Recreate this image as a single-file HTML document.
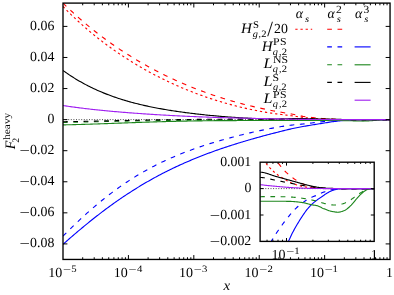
<!DOCTYPE html>
<html><head><meta charset="utf-8"><title>plot</title>
<style>html,body{margin:0;padding:0;background:#fff;}svg{display:block;}text{font-family:"Liberation Serif",serif;fill:#000;}.i{font-style:italic;}</style></head><body>
<div style="width:394px;height:295px;will-change:transform;overflow:hidden">
<svg width="394" height="295" viewBox="0 0 394 295">
<rect x="0" y="0" width="394" height="295" fill="#ffffff"/>
<defs><clipPath id="cm"><rect x="63.0" y="3.1" width="327.05" height="256.34999999999997"/></clipPath><clipPath id="ci"><rect x="260.1" y="162.2" width="114.09999999999997" height="79.20000000000002"/></clipPath></defs>
<g clip-path="url(#cm)" fill="none" stroke-linecap="butt" stroke-linejoin="round">
<path d="M63.0,119.62272727272723 L390.05,119.62272727272723" stroke="#000" stroke-width="0.7" stroke-dasharray="1 1.6"/>
<path d="M63.00,6.44 L64.26,7.74 L65.53,9.02 L66.79,10.30 L68.05,11.57 L69.31,12.82 L70.58,14.06 L71.84,15.29 L73.10,16.51 L74.36,17.72 L75.63,18.91 L76.89,20.09 L78.15,21.26 L79.42,22.42 L80.68,23.56 L81.94,24.70 L83.20,25.82 L84.47,26.93 L85.73,28.03 L86.99,29.12 L88.25,30.20 L89.52,31.27 L90.78,32.33 L92.04,33.38 L93.31,34.42 L94.57,35.45 L95.83,36.47 L97.09,37.48 L98.36,38.48 L99.62,39.47 L100.88,40.45 L102.14,41.43 L103.41,42.39 L104.67,43.34 L105.93,44.29 L107.20,45.23 L108.46,46.15 L109.72,47.07 L110.98,47.98 L112.25,48.89 L113.51,49.78 L114.77,50.66 L116.04,51.54 L117.30,52.41 L118.56,53.27 L119.82,54.13 L121.09,54.98 L122.35,55.81 L123.61,56.65 L124.87,57.47 L126.14,58.28 L127.40,59.09 L128.66,59.89 L129.93,60.69 L131.19,61.47 L132.45,62.25 L133.71,63.02 L134.98,63.79 L136.24,64.55 L137.50,65.30 L138.76,66.05 L140.03,66.78 L141.29,67.52 L142.55,68.24 L143.82,68.96 L145.08,69.67 L146.34,70.37 L147.60,71.07 L148.87,71.76 L150.13,72.45 L151.39,73.13 L152.65,73.80 L153.92,74.47 L155.18,75.13 L156.44,75.79 L157.71,76.44 L158.97,77.08 L160.23,77.72 L161.49,78.35 L162.76,78.97 L164.02,79.59 L165.28,80.20 L166.54,80.81 L167.81,81.41 L169.07,82.01 L170.33,82.60 L171.60,83.19 L172.86,83.77 L174.12,84.34 L175.38,84.91 L176.65,85.47 L177.91,86.02 L179.17,86.57 L180.43,87.12 L181.70,87.66 L182.96,88.19 L184.22,88.72 L185.49,89.25 L186.75,89.77 L188.01,90.28 L189.27,90.79 L190.54,91.29 L191.80,91.79 L193.06,92.28 L194.33,92.77 L195.59,93.25 L196.85,93.72 L198.11,94.19 L199.38,94.66 L200.64,95.12 L201.90,95.58 L203.16,96.03 L204.43,96.48 L205.69,96.92 L206.95,97.35 L208.22,97.78 L209.48,98.20 L210.74,98.62 L212.00,99.04 L213.27,99.45 L214.53,99.85 L215.79,100.25 L217.05,100.65 L218.32,101.04 L219.58,101.42 L220.84,101.81 L222.11,102.18 L223.37,102.55 L224.63,102.92 L225.89,103.28 L227.16,103.63 L228.42,103.98 L229.68,104.32 L230.94,104.66 L232.21,105.00 L233.47,105.33 L234.73,105.66 L236.00,105.99 L237.26,106.30 L238.52,106.62 L239.78,106.92 L241.05,107.23 L242.31,107.52 L243.57,107.82 L244.83,108.10 L246.10,108.39 L247.36,108.67 L248.62,108.94 L249.89,109.21 L251.15,109.48 L252.41,109.74 L253.67,110.00 L254.94,110.26 L256.20,110.50 L257.46,110.75 L258.72,110.98 L259.99,111.22 L261.25,111.45 L262.51,111.67 L263.78,111.89 L265.04,112.11 L266.30,112.33 L267.56,112.54 L268.83,112.74 L270.09,112.94 L271.35,113.14 L272.62,113.33 L273.88,113.52 L275.14,113.70 L276.40,113.88 L277.67,114.05 L278.93,114.21 L280.19,114.37 L281.45,114.52 L282.72,114.67 L283.98,114.81 L285.24,114.96 L286.51,115.11 L287.77,115.26 L289.03,115.41 L290.29,115.57 L291.56,115.73 L292.82,115.90 L294.08,116.08 L295.34,116.26 L296.61,116.45 L297.87,116.64 L299.13,116.83 L300.40,117.02 L301.66,117.20 L302.92,117.38 L304.18,117.55 L305.45,117.71 L306.71,117.86 L307.97,118.00 L309.23,118.13 L310.50,118.25 L311.76,118.36 L313.02,118.47 L314.29,118.56 L315.55,118.66 L316.81,118.74 L318.07,118.81 L319.34,118.88 L320.60,118.95 L321.86,119.01 L323.12,119.07 L324.39,119.13 L325.65,119.18 L326.91,119.24 L328.18,119.28 L329.44,119.33 L330.70,119.36 L331.96,119.40 L333.23,119.43 L334.49,119.46 L335.75,119.48 L337.01,119.50 L338.28,119.52 L339.54,119.54 L340.80,119.55 L342.07,119.57 L343.33,119.58 L344.59,119.59 L345.85,119.59 L347.12,119.60 L348.38,119.61 L349.64,119.61 L350.91,119.62 L352.17,119.62 L353.43,119.62 L354.69,119.62 L355.96,119.62 L357.22,119.62 L358.48,119.62 L359.74,119.62 L361.01,119.62 L362.27,119.62 L363.53,119.62 L364.80,119.62 L366.06,119.62 L367.32,119.62 L368.58,119.62 L369.85,119.62 L371.11,119.62 L372.37,119.62 L373.63,119.62 L374.90,119.62 L376.16,119.62 L377.42,119.62 L378.69,119.62 L379.95,119.62 L381.21,119.62 L382.47,119.62 L383.74,119.62 L385.00,119.62 L386.26,119.62 L387.52,119.62 L388.79,119.62 L390.05,119.62" stroke="#ff0000" stroke-width="1.12" stroke-dasharray="2.3 2.85"/>
<path d="M63.00,3.07 L64.26,4.30 L65.53,5.53 L66.79,6.75 L68.05,7.96 L69.31,9.16 L70.58,10.35 L71.84,11.53 L73.10,12.70 L74.36,13.86 L75.63,15.01 L76.89,16.15 L78.15,17.27 L79.42,18.39 L80.68,19.49 L81.94,20.59 L83.20,21.68 L84.47,22.75 L85.73,23.82 L86.99,24.88 L88.25,25.92 L89.52,26.96 L90.78,27.99 L92.04,29.01 L93.31,30.02 L94.57,31.03 L95.83,32.02 L97.09,33.00 L98.36,33.98 L99.62,34.95 L100.88,35.91 L102.14,36.86 L103.41,37.80 L104.67,38.74 L105.93,39.67 L107.20,40.58 L108.46,41.50 L109.72,42.40 L110.98,43.29 L112.25,44.18 L113.51,45.06 L114.77,45.94 L116.04,46.80 L117.30,47.66 L118.56,48.51 L119.82,49.36 L121.09,50.19 L122.35,51.02 L123.61,51.84 L124.87,52.66 L126.14,53.47 L127.40,54.27 L128.66,55.07 L129.93,55.85 L131.19,56.63 L132.45,57.41 L133.71,58.18 L134.98,58.94 L136.24,59.70 L137.50,60.45 L138.76,61.19 L140.03,61.93 L141.29,62.66 L142.55,63.38 L143.82,64.10 L145.08,64.81 L146.34,65.52 L147.60,66.22 L148.87,66.91 L150.13,67.60 L151.39,68.28 L152.65,68.96 L153.92,69.63 L155.18,70.29 L156.44,70.95 L157.71,71.61 L158.97,72.25 L160.23,72.89 L161.49,73.53 L162.76,74.16 L164.02,74.79 L165.28,75.41 L166.54,76.02 L167.81,76.63 L169.07,77.23 L170.33,77.83 L171.60,78.43 L172.86,79.01 L174.12,79.60 L175.38,80.17 L176.65,80.74 L177.91,81.31 L179.17,81.87 L180.43,82.43 L181.70,82.98 L182.96,83.52 L184.22,84.06 L185.49,84.60 L186.75,85.13 L188.01,85.66 L189.27,86.18 L190.54,86.70 L191.80,87.21 L193.06,87.71 L194.33,88.21 L195.59,88.71 L196.85,89.20 L198.11,89.69 L199.38,90.17 L200.64,90.65 L201.90,91.12 L203.16,91.59 L204.43,92.05 L205.69,92.51 L206.95,92.96 L208.22,93.41 L209.48,93.86 L210.74,94.29 L212.00,94.73 L213.27,95.16 L214.53,95.59 L215.79,96.01 L217.05,96.43 L218.32,96.84 L219.58,97.25 L220.84,97.65 L222.11,98.05 L223.37,98.45 L224.63,98.84 L225.89,99.22 L227.16,99.60 L228.42,99.98 L229.68,100.35 L230.94,100.72 L232.21,101.09 L233.47,101.45 L234.73,101.81 L236.00,102.16 L237.26,102.51 L238.52,102.85 L239.78,103.19 L241.05,103.53 L242.31,103.86 L243.57,104.19 L244.83,104.51 L246.10,104.83 L247.36,105.15 L248.62,105.46 L249.89,105.77 L251.15,106.07 L252.41,106.38 L253.67,106.67 L254.94,106.97 L256.20,107.26 L257.46,107.54 L258.72,107.83 L259.99,108.10 L261.25,108.38 L262.51,108.65 L263.78,108.92 L265.04,109.18 L266.30,109.45 L267.56,109.71 L268.83,109.96 L270.09,110.21 L271.35,110.46 L272.62,110.71 L273.88,110.95 L275.14,111.19 L276.40,111.43 L277.67,111.66 L278.93,111.88 L280.19,112.10 L281.45,112.31 L282.72,112.52 L283.98,112.74 L285.24,112.95 L286.51,113.16 L287.77,113.37 L289.03,113.59 L290.29,113.81 L291.56,114.04 L292.82,114.28 L294.08,114.53 L295.34,114.79 L296.61,115.06 L297.87,115.33 L299.13,115.59 L300.40,115.85 L301.66,116.10 L302.92,116.33 L304.18,116.53 L305.45,116.71 L306.71,116.88 L307.97,117.04 L309.23,117.18 L310.50,117.32 L311.76,117.45 L313.02,117.58 L314.29,117.71 L315.55,117.83 L316.81,117.96 L318.07,118.08 L319.34,118.21 L320.60,118.34 L321.86,118.46 L323.12,118.57 L324.39,118.67 L325.65,118.76 L326.91,118.84 L328.18,118.92 L329.44,119.00 L330.70,119.07 L331.96,119.14 L333.23,119.20 L334.49,119.26 L335.75,119.31 L337.01,119.36 L338.28,119.40 L339.54,119.43 L340.80,119.47 L342.07,119.50 L343.33,119.52 L344.59,119.54 L345.85,119.56 L347.12,119.58 L348.38,119.59 L349.64,119.60 L350.91,119.60 L352.17,119.61 L353.43,119.62 L354.69,119.62 L355.96,119.62 L357.22,119.62 L358.48,119.62 L359.74,119.62 L361.01,119.62 L362.27,119.62 L363.53,119.62 L364.80,119.62 L366.06,119.62 L367.32,119.62 L368.58,119.62 L369.85,119.62 L371.11,119.62 L372.37,119.62 L373.63,119.62 L374.90,119.62 L376.16,119.62 L377.42,119.62 L378.69,119.62 L379.95,119.62 L381.21,119.62 L382.47,119.62 L383.74,119.62 L385.00,119.62 L386.26,119.62 L387.52,119.62 L388.79,119.62 L390.05,119.62" stroke="#ff0000" stroke-width="1.12" stroke-dasharray="4.7 5.6"/>
<path d="M63.00,236.10 L64.26,234.83 L65.53,233.56 L66.79,232.30 L68.05,231.05 L69.31,229.80 L70.58,228.56 L71.84,227.33 L73.10,226.11 L74.36,224.90 L75.63,223.70 L76.89,222.50 L78.15,221.31 L79.42,220.13 L80.68,218.96 L81.94,217.80 L83.20,216.64 L84.47,215.48 L85.73,214.34 L86.99,213.20 L88.25,212.07 L89.52,210.95 L90.78,209.84 L92.04,208.74 L93.31,207.65 L94.57,206.57 L95.83,205.50 L97.09,204.44 L98.36,203.38 L99.62,202.34 L100.88,201.30 L102.14,200.27 L103.41,199.25 L104.67,198.24 L105.93,197.24 L107.20,196.25 L108.46,195.27 L109.72,194.30 L110.98,193.34 L112.25,192.39 L113.51,191.45 L114.77,190.52 L116.04,189.60 L117.30,188.68 L118.56,187.78 L119.82,186.88 L121.09,185.99 L122.35,185.11 L123.61,184.25 L124.87,183.39 L126.14,182.54 L127.40,181.70 L128.66,180.87 L129.93,180.06 L131.19,179.25 L132.45,178.44 L133.71,177.65 L134.98,176.87 L136.24,176.09 L137.50,175.32 L138.76,174.56 L140.03,173.81 L141.29,173.07 L142.55,172.34 L143.82,171.62 L145.08,170.91 L146.34,170.21 L147.60,169.51 L148.87,168.82 L150.13,168.14 L151.39,167.47 L152.65,166.80 L153.92,166.14 L155.18,165.49 L156.44,164.85 L157.71,164.22 L158.97,163.59 L160.23,162.98 L161.49,162.37 L162.76,161.77 L164.02,161.17 L165.28,160.58 L166.54,160.00 L167.81,159.43 L169.07,158.86 L170.33,158.30 L171.60,157.75 L172.86,157.20 L174.12,156.66 L175.38,156.12 L176.65,155.59 L177.91,155.07 L179.17,154.56 L180.43,154.05 L181.70,153.55 L182.96,153.05 L184.22,152.56 L185.49,152.07 L186.75,151.59 L188.01,151.12 L189.27,150.65 L190.54,150.18 L191.80,149.72 L193.06,149.27 L194.33,148.82 L195.59,148.38 L196.85,147.94 L198.11,147.50 L199.38,147.07 L200.64,146.65 L201.90,146.23 L203.16,145.81 L204.43,145.40 L205.69,144.99 L206.95,144.59 L208.22,144.19 L209.48,143.79 L210.74,143.40 L212.00,143.01 L213.27,142.63 L214.53,142.25 L215.79,141.87 L217.05,141.50 L218.32,141.13 L219.58,140.76 L220.84,140.40 L222.11,140.04 L223.37,139.68 L224.63,139.33 L225.89,138.98 L227.16,138.63 L228.42,138.29 L229.68,137.95 L230.94,137.61 L232.21,137.27 L233.47,136.94 L234.73,136.61 L236.00,136.29 L237.26,135.96 L238.52,135.64 L239.78,135.33 L241.05,135.01 L242.31,134.70 L243.57,134.39 L244.83,134.09 L246.10,133.78 L247.36,133.48 L248.62,133.18 L249.89,132.89 L251.15,132.59 L252.41,132.30 L253.67,132.01 L254.94,131.73 L256.20,131.45 L257.46,131.17 L258.72,130.90 L259.99,130.63 L261.25,130.37 L262.51,130.10 L263.78,129.84 L265.04,129.58 L266.30,129.32 L267.56,129.06 L268.83,128.81 L270.09,128.57 L271.35,128.33 L272.62,128.09 L273.88,127.86 L275.14,127.63 L276.40,127.42 L277.67,127.20 L278.93,126.98 L280.19,126.76 L281.45,126.55 L282.72,126.34 L283.98,126.14 L285.24,125.94 L286.51,125.75 L287.77,125.57 L289.03,125.40 L290.29,125.23 L291.56,125.08 L292.82,124.94 L294.08,124.81 L295.34,124.70 L296.61,124.59 L297.87,124.48 L299.13,124.38 L300.40,124.27 L301.66,124.17 L302.92,124.05 L304.18,123.92 L305.45,123.79 L306.71,123.63 L307.97,123.46 L309.23,123.28 L310.50,123.10 L311.76,122.93 L313.02,122.76 L314.29,122.59 L315.55,122.44 L316.81,122.28 L318.07,122.13 L319.34,121.99 L320.60,121.85 L321.86,121.71 L323.12,121.58 L324.39,121.45 L325.65,121.32 L326.91,121.20 L328.18,121.08 L329.44,120.97 L330.70,120.86 L331.96,120.76 L333.23,120.67 L334.49,120.59 L335.75,120.51 L337.01,120.44 L338.28,120.37 L339.54,120.30 L340.80,120.24 L342.07,120.19 L343.33,120.14 L344.59,120.10 L345.85,120.06 L347.12,120.01 L348.38,119.96 L349.64,119.92 L350.91,119.88 L352.17,119.84 L353.43,119.80 L354.69,119.77 L355.96,119.74 L357.22,119.71 L358.48,119.69 L359.74,119.67 L361.01,119.65 L362.27,119.64 L363.53,119.63 L364.80,119.62 L366.06,119.62 L367.32,119.62 L368.58,119.62 L369.85,119.62 L371.11,119.62 L372.37,119.62 L373.63,119.62 L374.90,119.62 L376.16,119.62 L377.42,119.62 L378.69,119.62 L379.95,119.62 L381.21,119.62 L382.47,119.62 L383.74,119.62 L385.00,119.62 L386.26,119.62 L387.52,119.62 L388.79,119.62 L390.05,119.62" stroke="#0000ff" stroke-width="1.12" stroke-dasharray="4.7 5.6"/>
<path d="M63.00,244.35 L64.26,243.23 L65.53,242.11 L66.79,240.99 L68.05,239.88 L69.31,238.77 L70.58,237.67 L71.84,236.58 L73.10,235.49 L74.36,234.41 L75.63,233.33 L76.89,232.25 L78.15,231.19 L79.42,230.12 L80.68,229.07 L81.94,228.01 L83.20,226.96 L84.47,225.92 L85.73,224.88 L86.99,223.85 L88.25,222.82 L89.52,221.80 L90.78,220.78 L92.04,219.77 L93.31,218.77 L94.57,217.77 L95.83,216.78 L97.09,215.80 L98.36,214.82 L99.62,213.85 L100.88,212.88 L102.14,211.92 L103.41,210.96 L104.67,210.01 L105.93,209.07 L107.20,208.13 L108.46,207.21 L109.72,206.28 L110.98,205.37 L112.25,204.46 L113.51,203.56 L114.77,202.66 L116.04,201.77 L117.30,200.89 L118.56,200.01 L119.82,199.14 L121.09,198.27 L122.35,197.41 L123.61,196.56 L124.87,195.72 L126.14,194.88 L127.40,194.05 L128.66,193.22 L129.93,192.41 L131.19,191.60 L132.45,190.79 L133.71,189.99 L134.98,189.20 L136.24,188.41 L137.50,187.63 L138.76,186.86 L140.03,186.09 L141.29,185.33 L142.55,184.57 L143.82,183.83 L145.08,183.09 L146.34,182.35 L147.60,181.63 L148.87,180.90 L150.13,180.19 L151.39,179.48 L152.65,178.77 L153.92,178.08 L155.18,177.38 L156.44,176.70 L157.71,176.02 L158.97,175.35 L160.23,174.68 L161.49,174.02 L162.76,173.36 L164.02,172.72 L165.28,172.07 L166.54,171.43 L167.81,170.80 L169.07,170.18 L170.33,169.55 L171.60,168.94 L172.86,168.33 L174.12,167.73 L175.38,167.13 L176.65,166.53 L177.91,165.95 L179.17,165.37 L180.43,164.79 L181.70,164.22 L182.96,163.65 L184.22,163.09 L185.49,162.53 L186.75,161.98 L188.01,161.44 L189.27,160.90 L190.54,160.36 L191.80,159.83 L193.06,159.30 L194.33,158.78 L195.59,158.26 L196.85,157.75 L198.11,157.24 L199.38,156.74 L200.64,156.24 L201.90,155.75 L203.16,155.26 L204.43,154.77 L205.69,154.29 L206.95,153.81 L208.22,153.34 L209.48,152.87 L210.74,152.40 L212.00,151.94 L213.27,151.48 L214.53,151.03 L215.79,150.58 L217.05,150.14 L218.32,149.69 L219.58,149.25 L220.84,148.82 L222.11,148.39 L223.37,147.96 L224.63,147.54 L225.89,147.12 L227.16,146.70 L228.42,146.28 L229.68,145.87 L230.94,145.46 L232.21,145.06 L233.47,144.66 L234.73,144.26 L236.00,143.86 L237.26,143.47 L238.52,143.08 L239.78,142.69 L241.05,142.31 L242.31,141.93 L243.57,141.55 L244.83,141.17 L246.10,140.80 L247.36,140.43 L248.62,140.06 L249.89,139.69 L251.15,139.33 L252.41,138.97 L253.67,138.61 L254.94,138.25 L256.20,137.90 L257.46,137.55 L258.72,137.20 L259.99,136.85 L261.25,136.50 L262.51,136.16 L263.78,135.82 L265.04,135.48 L266.30,135.14 L267.56,134.81 L268.83,134.48 L270.09,134.14 L271.35,133.82 L272.62,133.49 L273.88,133.16 L275.14,132.84 L276.40,132.52 L277.67,132.20 L278.93,131.87 L280.19,131.55 L281.45,131.23 L282.72,130.91 L283.98,130.59 L285.24,130.27 L286.51,129.97 L287.77,129.66 L289.03,129.37 L290.29,129.08 L291.56,128.80 L292.82,128.53 L294.08,128.26 L295.34,128.00 L296.61,127.75 L297.87,127.50 L299.13,127.25 L300.40,127.01 L301.66,126.78 L302.92,126.55 L304.18,126.32 L305.45,126.09 L306.71,125.87 L307.97,125.65 L309.23,125.44 L310.50,125.23 L311.76,125.02 L313.02,124.81 L314.29,124.61 L315.55,124.41 L316.81,124.21 L318.07,124.01 L319.34,123.81 L320.60,123.61 L321.86,123.41 L323.12,123.21 L324.39,123.00 L325.65,122.80 L326.91,122.59 L328.18,122.37 L329.44,122.17 L330.70,121.99 L331.96,121.82 L333.23,121.65 L334.49,121.48 L335.75,121.33 L337.01,121.18 L338.28,121.03 L339.54,120.90 L340.80,120.77 L342.07,120.66 L343.33,120.56 L344.59,120.47 L345.85,120.39 L347.12,120.31 L348.38,120.24 L349.64,120.17 L350.91,120.11 L352.17,120.03 L353.43,119.96 L354.69,119.90 L355.96,119.84 L357.22,119.79 L358.48,119.75 L359.74,119.71 L361.01,119.68 L362.27,119.66 L363.53,119.64 L364.80,119.63 L366.06,119.63 L367.32,119.62 L368.58,119.62 L369.85,119.62 L371.11,119.62 L372.37,119.62 L373.63,119.62 L374.90,119.62 L376.16,119.62 L377.42,119.62 L378.69,119.62 L379.95,119.62 L381.21,119.62 L382.47,119.62 L383.74,119.62 L385.00,119.62 L386.26,119.62 L387.52,119.62 L388.79,119.62 L390.05,119.62" stroke="#0000ff" stroke-width="1.12"/>
<path d="M63.00,122.40 L64.26,122.37 L65.53,122.35 L66.79,122.33 L68.05,122.30 L69.31,122.28 L70.58,122.26 L71.84,122.23 L73.10,122.21 L74.36,122.18 L75.63,122.16 L76.89,122.13 L78.15,122.11 L79.42,122.08 L80.68,122.06 L81.94,122.03 L83.20,122.01 L84.47,121.98 L85.73,121.95 L86.99,121.92 L88.25,121.90 L89.52,121.87 L90.78,121.84 L92.04,121.81 L93.31,121.79 L94.57,121.76 L95.83,121.73 L97.09,121.71 L98.36,121.68 L99.62,121.65 L100.88,121.62 L102.14,121.60 L103.41,121.57 L104.67,121.54 L105.93,121.52 L107.20,121.49 L108.46,121.46 L109.72,121.44 L110.98,121.41 L112.25,121.38 L113.51,121.36 L114.77,121.33 L116.04,121.31 L117.30,121.28 L118.56,121.26 L119.82,121.23 L121.09,121.21 L122.35,121.18 L123.61,121.16 L124.87,121.13 L126.14,121.11 L127.40,121.08 L128.66,121.06 L129.93,121.04 L131.19,121.02 L132.45,120.99 L133.71,120.97 L134.98,120.95 L136.24,120.93 L137.50,120.90 L138.76,120.88 L140.03,120.86 L141.29,120.84 L142.55,120.82 L143.82,120.80 L145.08,120.78 L146.34,120.76 L147.60,120.74 L148.87,120.73 L150.13,120.71 L151.39,120.69 L152.65,120.67 L153.92,120.65 L155.18,120.64 L156.44,120.62 L157.71,120.60 L158.97,120.59 L160.23,120.57 L161.49,120.56 L162.76,120.54 L164.02,120.53 L165.28,120.51 L166.54,120.50 L167.81,120.49 L169.07,120.47 L170.33,120.46 L171.60,120.45 L172.86,120.43 L174.12,120.42 L175.38,120.41 L176.65,120.40 L177.91,120.39 L179.17,120.38 L180.43,120.37 L181.70,120.36 L182.96,120.35 L184.22,120.34 L185.49,120.33 L186.75,120.32 L188.01,120.31 L189.27,120.30 L190.54,120.29 L191.80,120.29 L193.06,120.28 L194.33,120.27 L195.59,120.26 L196.85,120.26 L198.11,120.25 L199.38,120.25 L200.64,120.24 L201.90,120.23 L203.16,120.23 L204.43,120.22 L205.69,120.22 L206.95,120.21 L208.22,120.21 L209.48,120.20 L210.74,120.20 L212.00,120.20 L213.27,120.19 L214.53,120.19 L215.79,120.19 L217.05,120.18 L218.32,120.18 L219.58,120.18 L220.84,120.17 L222.11,120.17 L223.37,120.17 L224.63,120.17 L225.89,120.17 L227.16,120.16 L228.42,120.16 L229.68,120.16 L230.94,120.16 L232.21,120.16 L233.47,120.16 L234.73,120.16 L236.00,120.16 L237.26,120.15 L238.52,120.15 L239.78,120.15 L241.05,120.15 L242.31,120.15 L243.57,120.15 L244.83,120.15 L246.10,120.15 L247.36,120.15 L248.62,120.15 L249.89,120.15 L251.15,120.15 L252.41,120.15 L253.67,120.15 L254.94,120.15 L256.20,120.15 L257.46,120.15 L258.72,120.15 L259.99,120.15 L261.25,120.15 L262.51,120.15 L263.78,120.15 L265.04,120.15 L266.30,120.15 L267.56,120.15 L268.83,120.15 L270.09,120.15 L271.35,120.15 L272.62,120.15 L273.88,120.15 L275.14,120.15 L276.40,120.15 L277.67,120.15 L278.93,120.15 L280.19,120.15 L281.45,120.15 L282.72,120.15 L283.98,120.15 L285.24,120.15 L286.51,120.15 L287.77,120.15 L289.03,120.15 L290.29,120.14 L291.56,120.14 L292.82,120.14 L294.08,120.14 L295.34,120.13 L296.61,120.13 L297.87,120.12 L299.13,120.12 L300.40,120.11 L301.66,120.11 L302.92,120.10 L304.18,120.10 L305.45,120.10 L306.71,120.10 L307.97,120.10 L309.23,120.10 L310.50,120.10 L311.76,120.09 L313.02,120.09 L314.29,120.09 L315.55,120.09 L316.81,120.09 L318.07,120.09 L319.34,120.10 L320.60,120.10 L321.86,120.10 L323.12,120.10 L324.39,120.11 L325.65,120.11 L326.91,120.12 L328.18,120.12 L329.44,120.13 L330.70,120.14 L331.96,120.15 L333.23,120.16 L334.49,120.17 L335.75,120.18 L337.01,120.20 L338.28,120.21 L339.54,120.23 L340.80,120.25 L342.07,120.27 L343.33,120.29 L344.59,120.31 L345.85,120.33 L347.12,120.36 L348.38,120.39 L349.64,120.42 L350.91,120.45 L352.17,120.48 L353.43,120.51 L354.69,120.53 L355.96,120.55 L357.22,120.57 L358.48,120.58 L359.74,120.59 L361.01,120.59 L362.27,120.58 L363.53,120.57 L364.80,120.55 L366.06,120.53 L367.32,120.50 L368.58,120.45 L369.85,120.41 L371.11,120.35 L372.37,120.29 L373.63,120.22 L374.90,120.15 L376.16,120.07 L377.42,120.00 L378.69,119.93 L379.95,119.87 L381.21,119.81 L382.47,119.76 L383.74,119.70 L385.00,119.65 L386.26,119.64 L387.52,119.63 L388.79,119.62 L390.05,119.62" stroke="#1c861c" stroke-width="1.12" stroke-dasharray="4.7 5.6"/>
<path d="M63.00,124.89 L64.26,124.86 L65.53,124.84 L66.79,124.81 L68.05,124.78 L69.31,124.75 L70.58,124.72 L71.84,124.69 L73.10,124.66 L74.36,124.63 L75.63,124.59 L76.89,124.56 L78.15,124.53 L79.42,124.49 L80.68,124.46 L81.94,124.42 L83.20,124.39 L84.47,124.35 L85.73,124.31 L86.99,124.27 L88.25,124.23 L89.52,124.19 L90.78,124.15 L92.04,124.10 L93.31,124.06 L94.57,124.02 L95.83,123.98 L97.09,123.94 L98.36,123.89 L99.62,123.85 L100.88,123.81 L102.14,123.76 L103.41,123.72 L104.67,123.67 L105.93,123.63 L107.20,123.58 L108.46,123.53 L109.72,123.49 L110.98,123.44 L112.25,123.40 L113.51,123.35 L114.77,123.31 L116.04,123.26 L117.30,123.21 L118.56,123.17 L119.82,123.12 L121.09,123.07 L122.35,123.03 L123.61,122.98 L124.87,122.93 L126.14,122.89 L127.40,122.84 L128.66,122.80 L129.93,122.75 L131.19,122.71 L132.45,122.66 L133.71,122.62 L134.98,122.57 L136.24,122.53 L137.50,122.48 L138.76,122.44 L140.03,122.39 L141.29,122.35 L142.55,122.30 L143.82,122.26 L145.08,122.22 L146.34,122.18 L147.60,122.13 L148.87,122.09 L150.13,122.05 L151.39,122.01 L152.65,121.97 L153.92,121.93 L155.18,121.89 L156.44,121.85 L157.71,121.81 L158.97,121.77 L160.23,121.74 L161.49,121.70 L162.76,121.66 L164.02,121.63 L165.28,121.59 L166.54,121.56 L167.81,121.52 L169.07,121.49 L170.33,121.45 L171.60,121.42 L172.86,121.39 L174.12,121.36 L175.38,121.32 L176.65,121.29 L177.91,121.27 L179.17,121.24 L180.43,121.21 L181.70,121.18 L182.96,121.15 L184.22,121.13 L185.49,121.10 L186.75,121.07 L188.01,121.05 L189.27,121.02 L190.54,121.00 L191.80,120.98 L193.06,120.96 L194.33,120.93 L195.59,120.91 L196.85,120.89 L198.11,120.87 L199.38,120.86 L200.64,120.84 L201.90,120.82 L203.16,120.80 L204.43,120.78 L205.69,120.77 L206.95,120.75 L208.22,120.74 L209.48,120.73 L210.74,120.71 L212.00,120.70 L213.27,120.69 L214.53,120.68 L215.79,120.67 L217.05,120.66 L218.32,120.65 L219.58,120.64 L220.84,120.63 L222.11,120.62 L223.37,120.61 L224.63,120.61 L225.89,120.60 L227.16,120.60 L228.42,120.59 L229.68,120.59 L230.94,120.58 L232.21,120.58 L233.47,120.57 L234.73,120.57 L236.00,120.57 L237.26,120.56 L238.52,120.56 L239.78,120.56 L241.05,120.56 L242.31,120.56 L243.57,120.56 L244.83,120.56 L246.10,120.56 L247.36,120.56 L248.62,120.56 L249.89,120.56 L251.15,120.56 L252.41,120.56 L253.67,120.56 L254.94,120.56 L256.20,120.56 L257.46,120.56 L258.72,120.56 L259.99,120.56 L261.25,120.56 L262.51,120.56 L263.78,120.56 L265.04,120.56 L266.30,120.56 L267.56,120.56 L268.83,120.56 L270.09,120.56 L271.35,120.55 L272.62,120.55 L273.88,120.55 L275.14,120.55 L276.40,120.55 L277.67,120.55 L278.93,120.54 L280.19,120.53 L281.45,120.53 L282.72,120.52 L283.98,120.51 L285.24,120.50 L286.51,120.49 L287.77,120.48 L289.03,120.47 L290.29,120.46 L291.56,120.46 L292.82,120.45 L294.08,120.44 L295.34,120.43 L296.61,120.42 L297.87,120.41 L299.13,120.40 L300.40,120.39 L301.66,120.38 L302.92,120.38 L304.18,120.37 L305.45,120.37 L306.71,120.37 L307.97,120.37 L309.23,120.37 L310.50,120.37 L311.76,120.37 L313.02,120.36 L314.29,120.36 L315.55,120.36 L316.81,120.36 L318.07,120.36 L319.34,120.37 L320.60,120.37 L321.86,120.37 L323.12,120.37 L324.39,120.37 L325.65,120.37 L326.91,120.38 L328.18,120.38 L329.44,120.38 L330.70,120.39 L331.96,120.40 L333.23,120.41 L334.49,120.42 L335.75,120.44 L337.01,120.45 L338.28,120.47 L339.54,120.50 L340.80,120.52 L342.07,120.55 L343.33,120.57 L344.59,120.59 L345.85,120.60 L347.12,120.62 L348.38,120.65 L349.64,120.70 L350.91,120.75 L352.17,120.80 L353.43,120.83 L354.69,120.87 L355.96,120.91 L357.22,120.94 L358.48,120.97 L359.74,120.98 L361.01,121.00 L362.27,121.01 L363.53,121.01 L364.80,120.99 L366.06,120.96 L367.32,120.93 L368.58,120.88 L369.85,120.81 L371.11,120.73 L372.37,120.64 L373.63,120.53 L374.90,120.42 L376.16,120.29 L377.42,120.18 L378.69,120.07 L379.95,119.97 L381.21,119.87 L382.47,119.79 L383.74,119.73 L385.00,119.67 L386.26,119.64 L387.52,119.63 L388.79,119.62 L390.05,119.62" stroke="#1c861c" stroke-width="1.12"/>
<path d="M63.00,121.75 L64.26,121.72 L65.53,121.70 L66.79,121.67 L68.05,121.65 L69.31,121.62 L70.58,121.60 L71.84,121.58 L73.10,121.55 L74.36,121.53 L75.63,121.50 L76.89,121.48 L78.15,121.45 L79.42,121.42 L80.68,121.40 L81.94,121.37 L83.20,121.35 L84.47,121.32 L85.73,121.30 L86.99,121.27 L88.25,121.24 L89.52,121.22 L90.78,121.19 L92.04,121.16 L93.31,121.14 L94.57,121.11 L95.83,121.09 L97.09,121.06 L98.36,121.03 L99.62,121.01 L100.88,120.98 L102.14,120.96 L103.41,120.93 L104.67,120.90 L105.93,120.88 L107.20,120.85 L108.46,120.82 L109.72,120.80 L110.98,120.77 L112.25,120.75 L113.51,120.72 L114.77,120.69 L116.04,120.67 L117.30,120.64 L118.56,120.62 L119.82,120.59 L121.09,120.57 L122.35,120.54 L123.61,120.51 L124.87,120.49 L126.14,120.46 L127.40,120.44 L128.66,120.42 L129.93,120.39 L131.19,120.37 L132.45,120.34 L133.71,120.32 L134.98,120.29 L136.24,120.27 L137.50,120.25 L138.76,120.22 L140.03,120.20 L141.29,120.18 L142.55,120.15 L143.82,120.13 L145.08,120.11 L146.34,120.08 L147.60,120.06 L148.87,120.04 L150.13,120.02 L151.39,120.00 L152.65,119.98 L153.92,119.95 L155.18,119.93 L156.44,119.91 L157.71,119.89 L158.97,119.87 L160.23,119.85 L161.49,119.83 L162.76,119.81 L164.02,119.79 L165.28,119.78 L166.54,119.76 L167.81,119.74 L169.07,119.72 L170.33,119.70 L171.60,119.68 L172.86,119.67 L174.12,119.65 L175.38,119.63 L176.65,119.62 L177.91,119.60 L179.17,119.58 L180.43,119.57 L181.70,119.55 L182.96,119.54 L184.22,119.52 L185.49,119.51 L186.75,119.49 L188.01,119.48 L189.27,119.47 L190.54,119.45 L191.80,119.44 L193.06,119.43 L194.33,119.42 L195.59,119.40 L196.85,119.39 L198.11,119.38 L199.38,119.37 L200.64,119.36 L201.90,119.35 L203.16,119.34 L204.43,119.33 L205.69,119.32 L206.95,119.31 L208.22,119.30 L209.48,119.29 L210.74,119.28 L212.00,119.27 L213.27,119.26 L214.53,119.25 L215.79,119.25 L217.05,119.24 L218.32,119.23 L219.58,119.23 L220.84,119.22 L222.11,119.21 L223.37,119.21 L224.63,119.20 L225.89,119.19 L227.16,119.19 L228.42,119.18 L229.68,119.18 L230.94,119.17 L232.21,119.17 L233.47,119.17 L234.73,119.16 L236.00,119.16 L237.26,119.15 L238.52,119.15 L239.78,119.15 L241.05,119.14 L242.31,119.14 L243.57,119.14 L244.83,119.13 L246.10,119.13 L247.36,119.13 L248.62,119.13 L249.89,119.12 L251.15,119.12 L252.41,119.12 L253.67,119.12 L254.94,119.11 L256.20,119.11 L257.46,119.11 L258.72,119.11 L259.99,119.10 L261.25,119.10 L262.51,119.10 L263.78,119.10 L265.04,119.10 L266.30,119.09 L267.56,119.09 L268.83,119.09 L270.09,119.09 L271.35,119.08 L272.62,119.08 L273.88,119.08 L275.14,119.08 L276.40,119.07 L277.67,119.07 L278.93,119.07 L280.19,119.06 L281.45,119.06 L282.72,119.05 L283.98,119.05 L285.24,119.04 L286.51,119.04 L287.77,119.03 L289.03,119.03 L290.29,119.02 L291.56,119.02 L292.82,119.01 L294.08,119.01 L295.34,119.00 L296.61,119.00 L297.87,118.99 L299.13,118.98 L300.40,118.98 L301.66,118.97 L302.92,118.97 L304.18,118.97 L305.45,118.97 L306.71,118.98 L307.97,118.99 L309.23,119.00 L310.50,119.02 L311.76,119.05 L313.02,119.07 L314.29,119.09 L315.55,119.12 L316.81,119.14 L318.07,119.16 L319.34,119.18 L320.60,119.19 L321.86,119.22 L323.12,119.24 L324.39,119.26 L325.65,119.28 L326.91,119.30 L328.18,119.32 L329.44,119.33 L330.70,119.35 L331.96,119.37 L333.23,119.39 L334.49,119.41 L335.75,119.42 L337.01,119.44 L338.28,119.46 L339.54,119.47 L340.80,119.49 L342.07,119.51 L343.33,119.52 L344.59,119.53 L345.85,119.55 L347.12,119.56 L348.38,119.57 L349.64,119.57 L350.91,119.58 L352.17,119.59 L353.43,119.60 L354.69,119.60 L355.96,119.61 L357.22,119.61 L358.48,119.61 L359.74,119.61 L361.01,119.62 L362.27,119.62 L363.53,119.62 L364.80,119.62 L366.06,119.62 L367.32,119.62 L368.58,119.62 L369.85,119.62 L371.11,119.62 L372.37,119.62 L373.63,119.62 L374.90,119.62 L376.16,119.62 L377.42,119.62 L378.69,119.62 L379.95,119.62 L381.21,119.62 L382.47,119.62 L383.74,119.62 L385.00,119.62 L386.26,119.62 L387.52,119.62 L388.79,119.62 L390.05,119.62" stroke="#000000" stroke-width="1.12" stroke-dasharray="4.7 5.6"/>
<path d="M63.00,70.51 L64.26,71.40 L65.53,72.29 L66.79,73.16 L68.05,74.02 L69.31,74.87 L70.58,75.71 L71.84,76.53 L73.10,77.33 L74.36,78.13 L75.63,78.90 L76.89,79.67 L78.15,80.41 L79.42,81.15 L80.68,81.86 L81.94,82.57 L83.20,83.27 L84.47,83.95 L85.73,84.63 L86.99,85.29 L88.25,85.94 L89.52,86.57 L90.78,87.20 L92.04,87.81 L93.31,88.42 L94.57,89.01 L95.83,89.59 L97.09,90.15 L98.36,90.71 L99.62,91.26 L100.88,91.80 L102.14,92.33 L103.41,92.86 L104.67,93.37 L105.93,93.87 L107.20,94.37 L108.46,94.85 L109.72,95.32 L110.98,95.79 L112.25,96.25 L113.51,96.69 L114.77,97.13 L116.04,97.57 L117.30,97.99 L118.56,98.41 L119.82,98.82 L121.09,99.22 L122.35,99.62 L123.61,100.00 L124.87,100.39 L126.14,100.76 L127.40,101.13 L128.66,101.48 L129.93,101.84 L131.19,102.18 L132.45,102.52 L133.71,102.86 L134.98,103.19 L136.24,103.51 L137.50,103.83 L138.76,104.14 L140.03,104.45 L141.29,104.75 L142.55,105.04 L143.82,105.33 L145.08,105.61 L146.34,105.89 L147.60,106.17 L148.87,106.44 L150.13,106.70 L151.39,106.96 L152.65,107.22 L153.92,107.47 L155.18,107.72 L156.44,107.96 L157.71,108.20 L158.97,108.44 L160.23,108.67 L161.49,108.89 L162.76,109.12 L164.02,109.34 L165.28,109.55 L166.54,109.77 L167.81,109.97 L169.07,110.18 L170.33,110.38 L171.60,110.58 L172.86,110.78 L174.12,110.97 L175.38,111.16 L176.65,111.35 L177.91,111.53 L179.17,111.71 L180.43,111.89 L181.70,112.06 L182.96,112.24 L184.22,112.41 L185.49,112.58 L186.75,112.74 L188.01,112.90 L189.27,113.06 L190.54,113.22 L191.80,113.38 L193.06,113.53 L194.33,113.68 L195.59,113.83 L196.85,113.97 L198.11,114.12 L199.38,114.26 L200.64,114.40 L201.90,114.54 L203.16,114.67 L204.43,114.81 L205.69,114.94 L206.95,115.07 L208.22,115.19 L209.48,115.32 L210.74,115.44 L212.00,115.56 L213.27,115.68 L214.53,115.80 L215.79,115.92 L217.05,116.03 L218.32,116.14 L219.58,116.26 L220.84,116.36 L222.11,116.47 L223.37,116.57 L224.63,116.68 L225.89,116.78 L227.16,116.87 L228.42,116.97 L229.68,117.06 L230.94,117.16 L232.21,117.25 L233.47,117.34 L234.73,117.43 L236.00,117.52 L237.26,117.60 L238.52,117.68 L239.78,117.76 L241.05,117.84 L242.31,117.91 L243.57,117.98 L244.83,118.05 L246.10,118.12 L247.36,118.18 L248.62,118.25 L249.89,118.32 L251.15,118.38 L252.41,118.44 L253.67,118.49 L254.94,118.55 L256.20,118.59 L257.46,118.64 L258.72,118.67 L259.99,118.71 L261.25,118.74 L262.51,118.77 L263.78,118.80 L265.04,118.83 L266.30,118.86 L267.56,118.88 L268.83,118.91 L270.09,118.93 L271.35,118.94 L272.62,118.96 L273.88,118.97 L275.14,118.97 L276.40,118.97 L277.67,118.96 L278.93,118.94 L280.19,118.91 L281.45,118.88 L282.72,118.84 L283.98,118.81 L285.24,118.77 L286.51,118.74 L287.77,118.71 L289.03,118.68 L290.29,118.66 L291.56,118.65 L292.82,118.65 L294.08,118.65 L295.34,118.65 L296.61,118.65 L297.87,118.65 L299.13,118.65 L300.40,118.66 L301.66,118.66 L302.92,118.66 L304.18,118.66 L305.45,118.66 L306.71,118.67 L307.97,118.69 L309.23,118.71 L310.50,118.74 L311.76,118.78 L313.02,118.81 L314.29,118.85 L315.55,118.88 L316.81,118.91 L318.07,118.94 L319.34,118.96 L320.60,118.99 L321.86,119.02 L323.12,119.05 L324.39,119.07 L325.65,119.10 L326.91,119.13 L328.18,119.16 L329.44,119.18 L330.70,119.21 L331.96,119.24 L333.23,119.27 L334.49,119.29 L335.75,119.32 L337.01,119.35 L338.28,119.38 L339.54,119.40 L340.80,119.43 L342.07,119.45 L343.33,119.47 L344.59,119.49 L345.85,119.51 L347.12,119.53 L348.38,119.55 L349.64,119.56 L350.91,119.58 L352.17,119.59 L353.43,119.59 L354.69,119.60 L355.96,119.61 L357.22,119.61 L358.48,119.61 L359.74,119.62 L361.01,119.62 L362.27,119.62 L363.53,119.62 L364.80,119.62 L366.06,119.62 L367.32,119.62 L368.58,119.62 L369.85,119.62 L371.11,119.62 L372.37,119.62 L373.63,119.62 L374.90,119.62 L376.16,119.62 L377.42,119.62 L378.69,119.62 L379.95,119.62 L381.21,119.62 L382.47,119.62 L383.74,119.62 L385.00,119.62 L386.26,119.62 L387.52,119.62 L388.79,119.62 L390.05,119.62" stroke="#000000" stroke-width="1.12"/>
<path d="M63.00,105.54 L64.26,105.73 L65.53,105.92 L66.79,106.11 L68.05,106.29 L69.31,106.47 L70.58,106.65 L71.84,106.83 L73.10,107.00 L74.36,107.17 L75.63,107.34 L76.89,107.51 L78.15,107.67 L79.42,107.83 L80.68,107.99 L81.94,108.15 L83.20,108.30 L84.47,108.46 L85.73,108.61 L86.99,108.75 L88.25,108.90 L89.52,109.04 L90.78,109.19 L92.04,109.33 L93.31,109.46 L94.57,109.60 L95.83,109.73 L97.09,109.87 L98.36,110.00 L99.62,110.13 L100.88,110.26 L102.14,110.38 L103.41,110.51 L104.67,110.63 L105.93,110.75 L107.20,110.87 L108.46,110.99 L109.72,111.11 L110.98,111.23 L112.25,111.34 L113.51,111.45 L114.77,111.57 L116.04,111.68 L117.30,111.79 L118.56,111.90 L119.82,112.00 L121.09,112.11 L122.35,112.21 L123.61,112.32 L124.87,112.42 L126.14,112.52 L127.40,112.62 L128.66,112.72 L129.93,112.82 L131.19,112.91 L132.45,113.01 L133.71,113.10 L134.98,113.20 L136.24,113.29 L137.50,113.38 L138.76,113.47 L140.03,113.56 L141.29,113.65 L142.55,113.74 L143.82,113.83 L145.08,113.91 L146.34,114.00 L147.60,114.08 L148.87,114.16 L150.13,114.25 L151.39,114.33 L152.65,114.41 L153.92,114.49 L155.18,114.57 L156.44,114.65 L157.71,114.72 L158.97,114.80 L160.23,114.87 L161.49,114.95 L162.76,115.02 L164.02,115.10 L165.28,115.17 L166.54,115.24 L167.81,115.31 L169.07,115.38 L170.33,115.45 L171.60,115.52 L172.86,115.58 L174.12,115.65 L175.38,115.72 L176.65,115.78 L177.91,115.84 L179.17,115.91 L180.43,115.97 L181.70,116.03 L182.96,116.09 L184.22,116.15 L185.49,116.21 L186.75,116.27 L188.01,116.33 L189.27,116.39 L190.54,116.44 L191.80,116.50 L193.06,116.55 L194.33,116.61 L195.59,116.66 L196.85,116.71 L198.11,116.76 L199.38,116.82 L200.64,116.87 L201.90,116.92 L203.16,116.96 L204.43,117.01 L205.69,117.06 L206.95,117.11 L208.22,117.15 L209.48,117.20 L210.74,117.24 L212.00,117.29 L213.27,117.33 L214.53,117.37 L215.79,117.41 L217.05,117.45 L218.32,117.49 L219.58,117.53 L220.84,117.57 L222.11,117.61 L223.37,117.65 L224.63,117.69 L225.89,117.72 L227.16,117.76 L228.42,117.79 L229.68,117.83 L230.94,117.86 L232.21,117.90 L233.47,117.93 L234.73,117.96 L236.00,117.99 L237.26,118.02 L238.52,118.06 L239.78,118.09 L241.05,118.12 L242.31,118.15 L243.57,118.17 L244.83,118.20 L246.10,118.23 L247.36,118.26 L248.62,118.29 L249.89,118.31 L251.15,118.34 L252.41,118.36 L253.67,118.39 L254.94,118.42 L256.20,118.44 L257.46,118.47 L258.72,118.49 L259.99,118.52 L261.25,118.54 L262.51,118.57 L263.78,118.59 L265.04,118.61 L266.30,118.64 L267.56,118.66 L268.83,118.69 L270.09,118.71 L271.35,118.73 L272.62,118.76 L273.88,118.78 L275.14,118.81 L276.40,118.83 L277.67,118.86 L278.93,118.89 L280.19,118.92 L281.45,118.94 L282.72,118.97 L283.98,119.00 L285.24,119.03 L286.51,119.06 L287.77,119.09 L289.03,119.11 L290.29,119.14 L291.56,119.16 L292.82,119.19 L294.08,119.21 L295.34,119.23 L296.61,119.26 L297.87,119.28 L299.13,119.30 L300.40,119.32 L301.66,119.34 L302.92,119.36 L304.18,119.38 L305.45,119.39 L306.71,119.41 L307.97,119.42 L309.23,119.43 L310.50,119.44 L311.76,119.45 L313.02,119.46 L314.29,119.47 L315.55,119.48 L316.81,119.49 L318.07,119.50 L319.34,119.51 L320.60,119.52 L321.86,119.52 L323.12,119.53 L324.39,119.54 L325.65,119.55 L326.91,119.56 L328.18,119.56 L329.44,119.57 L330.70,119.57 L331.96,119.58 L333.23,119.58 L334.49,119.59 L335.75,119.59 L337.01,119.60 L338.28,119.60 L339.54,119.60 L340.80,119.61 L342.07,119.61 L343.33,119.61 L344.59,119.61 L345.85,119.61 L347.12,119.62 L348.38,119.62 L349.64,119.62 L350.91,119.62 L352.17,119.62 L353.43,119.62 L354.69,119.62 L355.96,119.62 L357.22,119.62 L358.48,119.62 L359.74,119.62 L361.01,119.62 L362.27,119.62 L363.53,119.62 L364.80,119.62 L366.06,119.62 L367.32,119.62 L368.58,119.62 L369.85,119.62 L371.11,119.62 L372.37,119.62 L373.63,119.62 L374.90,119.62 L376.16,119.62 L377.42,119.62 L378.69,119.62 L379.95,119.62 L381.21,119.62 L382.47,119.62 L383.74,119.62 L385.00,119.62 L386.26,119.62 L387.52,119.62 L388.79,119.62 L390.05,119.62" stroke="#a020f0" stroke-width="1.12"/>
</g>
<rect x="260.1" y="162.2" width="114.09999999999997" height="79.20000000000002" fill="#ffffff"/>
<g clip-path="url(#ci)" fill="none" stroke-linecap="butt" stroke-linejoin="round">
<path d="M260.1,188.60 L374.2,188.60" stroke="#000" stroke-width="0.7" stroke-dasharray="1 1.6"/>
<path d="M260.10,155.00 L260.67,155.89 L261.25,156.77 L261.82,157.63 L262.39,158.48 L262.97,159.30 L263.54,160.11 L264.11,160.89 L264.69,161.66 L265.26,162.41 L265.83,163.14 L266.41,163.85 L266.98,164.55 L267.55,165.24 L268.13,165.91 L268.70,166.56 L269.27,167.20 L269.85,167.82 L270.42,168.42 L270.99,169.01 L271.57,169.59 L272.14,170.15 L272.71,170.70 L273.29,171.24 L273.86,171.76 L274.43,172.27 L275.01,172.76 L275.58,173.23 L276.15,173.68 L276.73,174.12 L277.30,174.55 L277.87,174.97 L278.45,175.38 L279.02,175.78 L279.59,176.18 L280.17,176.56 L280.74,176.94 L281.31,177.31 L281.89,177.67 L282.46,178.03 L283.03,178.38 L283.61,178.72 L284.18,179.06 L284.75,179.39 L285.33,179.72 L285.90,180.05 L286.47,180.37 L287.05,180.70 L287.62,181.01 L288.19,181.33 L288.77,181.63 L289.34,181.93 L289.92,182.22 L290.49,182.50 L291.06,182.78 L291.64,183.04 L292.21,183.29 L292.78,183.52 L293.36,183.75 L293.93,183.96 L294.50,184.16 L295.08,184.36 L295.65,184.56 L296.22,184.75 L296.80,184.93 L297.37,185.11 L297.94,185.28 L298.52,185.45 L299.09,185.61 L299.66,185.76 L300.24,185.91 L300.81,186.05 L301.38,186.18 L301.96,186.31 L302.53,186.43 L303.10,186.54 L303.68,186.65 L304.25,186.77 L304.82,186.87 L305.40,186.98 L305.97,187.08 L306.54,187.17 L307.12,187.27 L307.69,187.35 L308.26,187.44 L308.84,187.52 L309.41,187.59 L309.98,187.66 L310.56,187.73 L311.13,187.78 L311.70,187.84 L312.28,187.89 L312.85,187.94 L313.42,188.00 L314.00,188.05 L314.57,188.10 L315.14,188.14 L315.72,188.19 L316.29,188.23 L316.86,188.28 L317.44,188.31 L318.01,188.35 L318.58,188.38 L319.16,188.41 L319.73,188.44 L320.30,188.46 L320.88,188.48 L321.45,188.49 L322.02,188.50 L322.60,188.51 L323.17,188.51 L323.74,188.52 L324.32,188.52 L324.89,188.53 L325.46,188.53 L326.04,188.54 L326.61,188.54 L327.18,188.55 L327.76,188.55 L328.33,188.56 L328.90,188.56 L329.48,188.57 L330.05,188.57 L330.62,188.57 L331.20,188.58 L331.77,188.58 L332.34,188.58 L332.92,188.58 L333.49,188.59 L334.06,188.59 L334.64,188.59 L335.21,188.59 L335.78,188.59 L336.36,188.60 L336.93,188.60 L337.50,188.60 L338.08,188.60 L338.65,188.60 L339.22,188.60 L339.80,188.60 L340.37,188.60 L340.94,188.60 L341.52,188.60 L342.09,188.60 L342.66,188.60 L343.24,188.60 L343.81,188.60 L344.38,188.60 L344.96,188.60 L345.53,188.60 L346.11,188.60 L346.68,188.60 L347.25,188.60 L347.83,188.60 L348.40,188.60 L348.97,188.60 L349.55,188.60 L350.12,188.60 L350.69,188.60 L351.27,188.60 L351.84,188.60 L352.41,188.60 L352.99,188.60 L353.56,188.60 L354.13,188.60 L354.71,188.60 L355.28,188.60 L355.85,188.60 L356.43,188.60 L357.00,188.60 L357.57,188.60 L358.15,188.60 L358.72,188.60 L359.29,188.60 L359.87,188.60 L360.44,188.60 L361.01,188.60 L361.59,188.60 L362.16,188.60 L362.73,188.60 L363.31,188.60 L363.88,188.60 L364.45,188.60 L365.03,188.60 L365.60,188.60 L366.17,188.60 L366.75,188.60 L367.32,188.60 L367.89,188.60 L368.47,188.60 L369.04,188.60 L369.61,188.60 L370.19,188.60 L370.76,188.60 L371.33,188.60 L371.91,188.60 L372.48,188.60 L373.05,188.60 L373.63,188.60 L374.20,188.60" stroke="#ff0000" stroke-width="1.12" stroke-dasharray="2.3 2.85"/>
<path d="M260.10,138.00 L260.67,139.01 L261.25,139.99 L261.82,140.95 L262.39,141.89 L262.97,142.81 L263.54,143.70 L264.11,144.58 L264.69,145.44 L265.26,146.29 L265.83,147.11 L266.41,147.93 L266.98,148.72 L267.55,149.51 L268.13,150.28 L268.70,151.05 L269.27,151.80 L269.85,152.55 L270.42,153.29 L270.99,154.02 L271.57,154.75 L272.14,155.47 L272.71,156.19 L273.29,156.90 L273.86,157.62 L274.43,158.33 L275.01,159.05 L275.58,159.77 L276.15,160.49 L276.73,161.21 L277.30,161.95 L277.87,162.68 L278.45,163.42 L279.02,164.16 L279.59,164.90 L280.17,165.63 L280.74,166.36 L281.31,167.07 L281.89,167.77 L282.46,168.45 L283.03,169.12 L283.61,169.76 L284.18,170.37 L284.75,170.96 L285.33,171.52 L285.90,172.08 L286.47,172.63 L287.05,173.16 L287.62,173.68 L288.19,174.19 L288.77,174.69 L289.34,175.18 L289.92,175.66 L290.49,176.12 L291.06,176.58 L291.64,177.02 L292.21,177.46 L292.78,177.88 L293.36,178.30 L293.93,178.70 L294.50,179.11 L295.08,179.51 L295.65,179.90 L296.22,180.29 L296.80,180.67 L297.37,181.04 L297.94,181.40 L298.52,181.76 L299.09,182.10 L299.66,182.43 L300.24,182.74 L300.81,183.04 L301.38,183.33 L301.96,183.60 L302.53,183.86 L303.10,184.10 L303.68,184.34 L304.25,184.57 L304.82,184.80 L305.40,185.01 L305.97,185.22 L306.54,185.43 L307.12,185.62 L307.69,185.81 L308.26,185.99 L308.84,186.16 L309.41,186.33 L309.98,186.48 L310.56,186.63 L311.13,186.76 L311.70,186.89 L312.28,187.01 L312.85,187.13 L313.42,187.25 L314.00,187.36 L314.57,187.47 L315.14,187.57 L315.72,187.66 L316.29,187.75 L316.86,187.83 L317.44,187.90 L318.01,187.96 L318.58,188.02 L319.16,188.07 L319.73,188.11 L320.30,188.16 L320.88,188.21 L321.45,188.25 L322.02,188.29 L322.60,188.33 L323.17,188.37 L323.74,188.41 L324.32,188.44 L324.89,188.47 L325.46,188.49 L326.04,188.51 L326.61,188.53 L327.18,188.54 L327.76,188.55 L328.33,188.55 L328.90,188.56 L329.48,188.56 L330.05,188.56 L330.62,188.56 L331.20,188.57 L331.77,188.57 L332.34,188.57 L332.92,188.58 L333.49,188.58 L334.06,188.58 L334.64,188.58 L335.21,188.58 L335.78,188.59 L336.36,188.59 L336.93,188.59 L337.50,188.59 L338.08,188.59 L338.65,188.59 L339.22,188.59 L339.80,188.60 L340.37,188.60 L340.94,188.60 L341.52,188.60 L342.09,188.60 L342.66,188.60 L343.24,188.60 L343.81,188.60 L344.38,188.60 L344.96,188.60 L345.53,188.60 L346.11,188.60 L346.68,188.60 L347.25,188.60 L347.83,188.60 L348.40,188.60 L348.97,188.60 L349.55,188.60 L350.12,188.60 L350.69,188.60 L351.27,188.60 L351.84,188.60 L352.41,188.60 L352.99,188.60 L353.56,188.60 L354.13,188.60 L354.71,188.60 L355.28,188.60 L355.85,188.60 L356.43,188.60 L357.00,188.60 L357.57,188.60 L358.15,188.60 L358.72,188.60 L359.29,188.60 L359.87,188.60 L360.44,188.60 L361.01,188.60 L361.59,188.60 L362.16,188.60 L362.73,188.60 L363.31,188.60 L363.88,188.60 L364.45,188.60 L365.03,188.60 L365.60,188.60 L366.17,188.60 L366.75,188.60 L367.32,188.60 L367.89,188.60 L368.47,188.60 L369.04,188.60 L369.61,188.60 L370.19,188.60 L370.76,188.60 L371.33,188.60 L371.91,188.60 L372.48,188.60 L373.05,188.60 L373.63,188.60 L374.20,188.60" stroke="#ff0000" stroke-width="1.12" stroke-dasharray="4.7 5.6"/>
<path d="M260.10,260.30 L260.67,259.48 L261.25,258.62 L261.82,257.72 L262.39,256.80 L262.97,255.85 L263.54,254.88 L264.11,253.89 L264.69,252.88 L265.26,251.86 L265.83,250.84 L266.41,249.80 L266.98,248.77 L267.55,247.73 L268.13,246.70 L268.70,245.68 L269.27,244.67 L269.85,243.67 L270.42,242.69 L270.99,241.74 L271.57,240.80 L272.14,239.87 L272.71,238.95 L273.29,238.03 L273.86,237.11 L274.43,236.20 L275.01,235.30 L275.58,234.41 L276.15,233.53 L276.73,232.66 L277.30,231.80 L277.87,230.95 L278.45,230.11 L279.02,229.28 L279.59,228.46 L280.17,227.65 L280.74,226.85 L281.31,226.05 L281.89,225.26 L282.46,224.48 L283.03,223.70 L283.61,222.93 L284.18,222.16 L284.75,221.40 L285.33,220.65 L285.90,219.91 L286.47,219.17 L287.05,218.44 L287.62,217.72 L288.19,217.01 L288.77,216.29 L289.34,215.59 L289.92,214.89 L290.49,214.20 L291.06,213.52 L291.64,212.86 L292.21,212.22 L292.78,211.59 L293.36,210.98 L293.93,210.37 L294.50,209.78 L295.08,209.20 L295.65,208.63 L296.22,208.07 L296.80,207.53 L297.37,207.01 L297.94,206.50 L298.52,206.00 L299.09,205.51 L299.66,205.04 L300.24,204.58 L300.81,204.13 L301.38,203.68 L301.96,203.25 L302.53,202.82 L303.10,202.41 L303.68,201.99 L304.25,201.59 L304.82,201.19 L305.40,200.80 L305.97,200.42 L306.54,200.05 L307.12,199.70 L307.69,199.36 L308.26,199.04 L308.84,198.73 L309.41,198.44 L309.98,198.15 L310.56,197.87 L311.13,197.60 L311.70,197.34 L312.28,197.07 L312.85,196.82 L313.42,196.58 L314.00,196.34 L314.57,196.11 L315.14,195.87 L315.72,195.62 L316.29,195.37 L316.86,195.11 L317.44,194.84 L318.01,194.56 L318.58,194.29 L319.16,194.02 L319.73,193.76 L320.30,193.51 L320.88,193.27 L321.45,193.03 L322.02,192.80 L322.60,192.57 L323.17,192.35 L323.74,192.13 L324.32,191.92 L324.89,191.71 L325.46,191.50 L326.04,191.30 L326.61,191.10 L327.18,190.91 L327.76,190.73 L328.33,190.56 L328.90,190.40 L329.48,190.24 L330.05,190.10 L330.62,189.95 L331.20,189.82 L331.77,189.69 L332.34,189.57 L332.92,189.45 L333.49,189.34 L334.06,189.22 L334.64,189.12 L335.21,189.03 L335.78,188.95 L336.36,188.90 L336.93,188.85 L337.50,188.80 L338.08,188.76 L338.65,188.72 L339.22,188.69 L339.80,188.66 L340.37,188.63 L340.94,188.61 L341.52,188.60 L342.09,188.60 L342.66,188.60 L343.24,188.60 L343.81,188.60 L344.38,188.60 L344.96,188.60 L345.53,188.60 L346.11,188.60 L346.68,188.60 L347.25,188.60 L347.83,188.60 L348.40,188.60 L348.97,188.60 L349.55,188.60 L350.12,188.60 L350.69,188.60 L351.27,188.60 L351.84,188.60 L352.41,188.60 L352.99,188.60 L353.56,188.60 L354.13,188.60 L354.71,188.60 L355.28,188.60 L355.85,188.60 L356.43,188.60 L357.00,188.60 L357.57,188.60 L358.15,188.60 L358.72,188.60 L359.29,188.60 L359.87,188.60 L360.44,188.60 L361.01,188.60 L361.59,188.60 L362.16,188.60 L362.73,188.60 L363.31,188.60 L363.88,188.60 L364.45,188.60 L365.03,188.60 L365.60,188.60 L366.17,188.60 L366.75,188.60 L367.32,188.60 L367.89,188.60 L368.47,188.60 L369.04,188.60 L369.61,188.60 L370.19,188.60 L370.76,188.60 L371.33,188.60 L371.91,188.60 L372.48,188.60 L373.05,188.60 L373.63,188.60 L374.20,188.60" stroke="#0000ff" stroke-width="1.12" stroke-dasharray="4.7 5.6"/>
<path d="M260.10,300.00 L260.67,298.70 L261.25,297.42 L261.82,296.14 L262.39,294.87 L262.97,293.61 L263.54,292.36 L264.11,291.11 L264.69,289.88 L265.26,288.65 L265.83,287.42 L266.41,286.20 L266.98,284.99 L267.55,283.79 L268.13,282.59 L268.70,281.40 L269.27,280.21 L269.85,279.02 L270.42,277.85 L270.99,276.67 L271.57,275.50 L272.14,274.33 L272.71,273.17 L273.29,272.00 L273.86,270.84 L274.43,269.69 L275.01,268.53 L275.58,267.38 L276.15,266.23 L276.73,265.08 L277.30,263.93 L277.87,262.78 L278.45,261.63 L279.02,260.48 L279.59,259.33 L280.17,258.18 L280.74,257.03 L281.31,255.88 L281.89,254.72 L282.46,253.56 L283.03,252.41 L283.61,251.24 L284.18,250.08 L284.75,248.91 L285.33,247.74 L285.90,246.57 L286.47,245.39 L287.05,244.21 L287.62,243.02 L288.19,241.83 L288.77,240.63 L289.34,239.40 L289.92,238.17 L290.49,236.94 L291.06,235.72 L291.64,234.53 L292.21,233.37 L292.78,232.26 L293.36,231.17 L293.93,230.11 L294.50,229.07 L295.08,228.04 L295.65,227.04 L296.22,226.04 L296.80,225.06 L297.37,224.09 L297.94,223.13 L298.52,222.17 L299.09,221.23 L299.66,220.30 L300.24,219.38 L300.81,218.48 L301.38,217.59 L301.96,216.71 L302.53,215.85 L303.10,215.01 L303.68,214.17 L304.25,213.34 L304.82,212.52 L305.40,211.71 L305.97,210.93 L306.54,210.17 L307.12,209.43 L307.69,208.73 L308.26,208.06 L308.84,207.40 L309.41,206.77 L309.98,206.15 L310.56,205.56 L311.13,204.98 L311.70,204.42 L312.28,203.88 L312.85,203.36 L313.42,202.85 L314.00,202.37 L314.57,201.91 L315.14,201.45 L315.72,201.01 L316.29,200.58 L316.86,200.16 L317.44,199.74 L318.01,199.32 L318.58,198.91 L319.16,198.52 L319.73,198.13 L320.30,197.74 L320.88,197.36 L321.45,196.98 L322.02,196.58 L322.60,196.18 L323.17,195.77 L323.74,195.35 L324.32,194.94 L324.89,194.53 L325.46,194.14 L326.04,193.78 L326.61,193.42 L327.18,193.07 L327.76,192.73 L328.33,192.40 L328.90,192.08 L329.48,191.78 L330.05,191.50 L330.62,191.25 L331.20,191.00 L331.77,190.76 L332.34,190.53 L332.92,190.31 L333.49,190.10 L334.06,189.91 L334.64,189.74 L335.21,189.59 L335.78,189.46 L336.36,189.34 L336.93,189.21 L337.50,189.10 L338.08,188.99 L338.65,188.90 L339.22,188.82 L339.80,188.76 L340.37,188.71 L340.94,188.69 L341.52,188.68 L342.09,188.66 L342.66,188.65 L343.24,188.64 L343.81,188.63 L344.38,188.62 L344.96,188.61 L345.53,188.61 L346.11,188.60 L346.68,188.60 L347.25,188.60 L347.83,188.60 L348.40,188.60 L348.97,188.60 L349.55,188.60 L350.12,188.60 L350.69,188.60 L351.27,188.60 L351.84,188.60 L352.41,188.60 L352.99,188.60 L353.56,188.60 L354.13,188.60 L354.71,188.60 L355.28,188.60 L355.85,188.60 L356.43,188.60 L357.00,188.60 L357.57,188.60 L358.15,188.60 L358.72,188.60 L359.29,188.60 L359.87,188.60 L360.44,188.60 L361.01,188.60 L361.59,188.60 L362.16,188.60 L362.73,188.60 L363.31,188.60 L363.88,188.60 L364.45,188.60 L365.03,188.60 L365.60,188.60 L366.17,188.60 L366.75,188.60 L367.32,188.60 L367.89,188.60 L368.47,188.60 L369.04,188.60 L369.61,188.60 L370.19,188.60 L370.76,188.60 L371.33,188.60 L371.91,188.60 L372.48,188.60 L373.05,188.60 L373.63,188.60 L374.20,188.60" stroke="#0000ff" stroke-width="1.12"/>
<path d="M260.10,196.70 L260.67,196.69 L261.25,196.69 L261.82,196.68 L262.39,196.67 L262.97,196.67 L263.54,196.66 L264.11,196.66 L264.69,196.65 L265.26,196.65 L265.83,196.64 L266.41,196.64 L266.98,196.63 L267.55,196.63 L268.13,196.62 L268.70,196.62 L269.27,196.62 L269.85,196.61 L270.42,196.61 L270.99,196.61 L271.57,196.61 L272.14,196.60 L272.71,196.60 L273.29,196.60 L273.86,196.60 L274.43,196.60 L275.01,196.60 L275.58,196.60 L276.15,196.60 L276.73,196.61 L277.30,196.61 L277.87,196.62 L278.45,196.63 L279.02,196.64 L279.59,196.65 L280.17,196.66 L280.74,196.67 L281.31,196.69 L281.89,196.70 L282.46,196.72 L283.03,196.74 L283.61,196.75 L284.18,196.77 L284.75,196.79 L285.33,196.81 L285.90,196.83 L286.47,196.86 L287.05,196.88 L287.62,196.90 L288.19,196.92 L288.77,196.95 L289.34,196.97 L289.92,197.00 L290.49,197.02 L291.06,197.05 L291.64,197.09 L292.21,197.13 L292.78,197.17 L293.36,197.21 L293.93,197.26 L294.50,197.32 L295.08,197.37 L295.65,197.43 L296.22,197.49 L296.80,197.55 L297.37,197.62 L297.94,197.69 L298.52,197.76 L299.09,197.83 L299.66,197.90 L300.24,197.97 L300.81,198.05 L301.38,198.12 L301.96,198.20 L302.53,198.28 L303.10,198.36 L303.68,198.44 L304.25,198.53 L304.82,198.62 L305.40,198.72 L305.97,198.82 L306.54,198.93 L307.12,199.04 L307.69,199.15 L308.26,199.26 L308.84,199.38 L309.41,199.50 L309.98,199.61 L310.56,199.73 L311.13,199.85 L311.70,199.97 L312.28,200.09 L312.85,200.21 L313.42,200.33 L314.00,200.45 L314.57,200.57 L315.14,200.70 L315.72,200.83 L316.29,200.97 L316.86,201.13 L317.44,201.30 L318.01,201.48 L318.58,201.67 L319.16,201.86 L319.73,202.06 L320.30,202.26 L320.88,202.45 L321.45,202.64 L322.02,202.82 L322.60,203.00 L323.17,203.16 L323.74,203.31 L324.32,203.45 L324.89,203.59 L325.46,203.72 L326.04,203.86 L326.61,203.99 L327.18,204.12 L327.76,204.25 L328.33,204.37 L328.90,204.48 L329.48,204.58 L330.05,204.67 L330.62,204.75 L331.20,204.82 L331.77,204.87 L332.34,204.91 L332.92,204.94 L333.49,204.96 L334.06,204.99 L334.64,205.00 L335.21,205.00 L335.78,204.98 L336.36,204.95 L336.93,204.90 L337.50,204.84 L338.08,204.76 L338.65,204.68 L339.22,204.59 L339.80,204.50 L340.37,204.40 L340.94,204.30 L341.52,204.16 L342.09,204.00 L342.66,203.83 L343.24,203.63 L343.81,203.41 L344.38,203.17 L344.96,202.93 L345.53,202.67 L346.11,202.40 L346.68,202.12 L347.25,201.83 L347.83,201.54 L348.40,201.25 L348.97,200.95 L349.55,200.61 L350.12,200.24 L350.69,199.85 L351.27,199.45 L351.84,199.03 L352.41,198.61 L352.99,198.20 L353.56,197.79 L354.13,197.36 L354.71,196.93 L355.28,196.48 L355.85,196.03 L356.43,195.59 L357.00,195.15 L357.57,194.73 L358.15,194.34 L358.72,193.96 L359.29,193.60 L359.87,193.24 L360.44,192.90 L361.01,192.56 L361.59,192.23 L362.16,191.91 L362.73,191.60 L363.31,191.29 L363.88,190.96 L364.45,190.62 L365.03,190.28 L365.60,189.95 L366.17,189.65 L366.75,189.39 L367.32,189.17 L367.89,189.02 L368.47,188.92 L369.04,188.83 L369.61,188.75 L370.19,188.70 L370.76,188.66 L371.33,188.64 L371.91,188.63 L372.48,188.62 L373.05,188.61 L373.63,188.60 L374.20,188.60" stroke="#1c861c" stroke-width="1.12" stroke-dasharray="4.7 5.6"/>
<path d="M260.10,201.30 L260.67,201.29 L261.25,201.29 L261.82,201.28 L262.39,201.27 L262.97,201.27 L263.54,201.26 L264.11,201.26 L264.69,201.25 L265.26,201.25 L265.83,201.24 L266.41,201.24 L266.98,201.23 L267.55,201.23 L268.13,201.22 L268.70,201.22 L269.27,201.22 L269.85,201.21 L270.42,201.21 L270.99,201.21 L271.57,201.21 L272.14,201.20 L272.71,201.20 L273.29,201.20 L273.86,201.20 L274.43,201.20 L275.01,201.20 L275.58,201.20 L276.15,201.20 L276.73,201.20 L277.30,201.21 L277.87,201.21 L278.45,201.21 L279.02,201.22 L279.59,201.22 L280.17,201.23 L280.74,201.23 L281.31,201.24 L281.89,201.25 L282.46,201.25 L283.03,201.26 L283.61,201.27 L284.18,201.28 L284.75,201.29 L285.33,201.30 L285.90,201.31 L286.47,201.32 L287.05,201.33 L287.62,201.35 L288.19,201.36 L288.77,201.37 L289.34,201.38 L289.92,201.40 L290.49,201.41 L291.06,201.43 L291.64,201.46 L292.21,201.49 L292.78,201.52 L293.36,201.56 L293.93,201.60 L294.50,201.65 L295.08,201.70 L295.65,201.75 L296.22,201.81 L296.80,201.87 L297.37,201.93 L297.94,201.99 L298.52,202.06 L299.09,202.13 L299.66,202.20 L300.24,202.27 L300.81,202.35 L301.38,202.42 L301.96,202.50 L302.53,202.58 L303.10,202.66 L303.68,202.76 L304.25,202.87 L304.82,203.00 L305.40,203.14 L305.97,203.29 L306.54,203.44 L307.12,203.60 L307.69,203.76 L308.26,203.92 L308.84,204.08 L309.41,204.24 L309.98,204.39 L310.56,204.54 L311.13,204.68 L311.70,204.80 L312.28,204.91 L312.85,205.01 L313.42,205.08 L314.00,205.15 L314.57,205.21 L315.14,205.27 L315.72,205.35 L316.29,205.46 L316.86,205.60 L317.44,205.78 L318.01,205.99 L318.58,206.22 L319.16,206.48 L319.73,206.75 L320.30,207.03 L320.88,207.32 L321.45,207.60 L322.02,207.89 L322.60,208.16 L323.17,208.42 L323.74,208.66 L324.32,208.88 L324.89,209.10 L325.46,209.32 L326.04,209.54 L326.61,209.77 L327.18,209.99 L327.76,210.20 L328.33,210.41 L328.90,210.62 L329.48,210.81 L330.05,210.98 L330.62,211.15 L331.20,211.29 L331.77,211.42 L332.34,211.53 L332.92,211.63 L333.49,211.73 L334.06,211.82 L334.64,211.91 L335.21,212.00 L335.78,212.07 L336.36,212.13 L336.93,212.17 L337.50,212.19 L338.08,212.20 L338.65,212.17 L339.22,212.10 L339.80,212.00 L340.37,211.88 L340.94,211.73 L341.52,211.56 L342.09,211.37 L342.66,211.16 L343.24,210.95 L343.81,210.73 L344.38,210.51 L344.96,210.25 L345.53,209.93 L346.11,209.56 L346.68,209.15 L347.25,208.71 L347.83,208.25 L348.40,207.78 L348.97,207.30 L349.55,206.78 L350.12,206.22 L350.69,205.64 L351.27,205.04 L351.84,204.42 L352.41,203.80 L352.99,203.16 L353.56,202.48 L354.13,201.79 L354.71,201.08 L355.28,200.37 L355.85,199.67 L356.43,199.00 L357.00,198.35 L357.57,197.70 L358.15,197.06 L358.72,196.43 L359.29,195.82 L359.87,195.22 L360.44,194.65 L361.01,194.10 L361.59,193.56 L362.16,193.02 L362.73,192.51 L363.31,192.02 L363.88,191.57 L364.45,191.16 L365.03,190.80 L365.60,190.44 L366.17,190.10 L366.75,189.78 L367.32,189.50 L367.89,189.26 L368.47,189.08 L369.04,188.95 L369.61,188.85 L370.19,188.76 L370.76,188.70 L371.33,188.66 L371.91,188.64 L372.48,188.62 L373.05,188.61 L373.63,188.60 L374.20,188.60" stroke="#1c861c" stroke-width="1.12"/>
<path d="M260.10,177.50 L260.67,177.51 L261.25,177.53 L261.82,177.56 L262.39,177.61 L262.97,177.67 L263.54,177.73 L264.11,177.81 L264.69,177.90 L265.26,178.00 L265.83,178.10 L266.41,178.21 L266.98,178.32 L267.55,178.45 L268.13,178.57 L268.70,178.70 L269.27,178.83 L269.85,178.97 L270.42,179.10 L270.99,179.24 L271.57,179.38 L272.14,179.51 L272.71,179.64 L273.29,179.78 L273.86,179.90 L274.43,180.03 L275.01,180.15 L275.58,180.26 L276.15,180.37 L276.73,180.48 L277.30,180.59 L277.87,180.70 L278.45,180.81 L279.02,180.92 L279.59,181.03 L280.17,181.15 L280.74,181.26 L281.31,181.38 L281.89,181.49 L282.46,181.61 L283.03,181.73 L283.61,181.84 L284.18,181.96 L284.75,182.08 L285.33,182.19 L285.90,182.31 L286.47,182.42 L287.05,182.54 L287.62,182.66 L288.19,182.77 L288.77,182.89 L289.34,183.00 L289.92,183.11 L290.49,183.23 L291.06,183.34 L291.64,183.45 L292.21,183.56 L292.78,183.67 L293.36,183.77 L293.93,183.88 L294.50,183.99 L295.08,184.09 L295.65,184.20 L296.22,184.30 L296.80,184.41 L297.37,184.52 L297.94,184.62 L298.52,184.72 L299.09,184.83 L299.66,184.93 L300.24,185.03 L300.81,185.14 L301.38,185.24 L301.96,185.34 L302.53,185.43 L303.10,185.53 L303.68,185.63 L304.25,185.72 L304.82,185.81 L305.40,185.91 L305.97,186.00 L306.54,186.08 L307.12,186.17 L307.69,186.26 L308.26,186.35 L308.84,186.44 L309.41,186.53 L309.98,186.62 L310.56,186.71 L311.13,186.79 L311.70,186.87 L312.28,186.95 L312.85,187.03 L313.42,187.11 L314.00,187.18 L314.57,187.25 L315.14,187.31 L315.72,187.37 L316.29,187.43 L316.86,187.48 L317.44,187.54 L318.01,187.60 L318.58,187.65 L319.16,187.70 L319.73,187.76 L320.30,187.81 L320.88,187.86 L321.45,187.91 L322.02,187.96 L322.60,188.00 L323.17,188.04 L323.74,188.08 L324.32,188.12 L324.89,188.16 L325.46,188.19 L326.04,188.22 L326.61,188.25 L327.18,188.27 L327.76,188.29 L328.33,188.31 L328.90,188.33 L329.48,188.34 L330.05,188.36 L330.62,188.37 L331.20,188.39 L331.77,188.41 L332.34,188.42 L332.92,188.43 L333.49,188.45 L334.06,188.46 L334.64,188.47 L335.21,188.49 L335.78,188.50 L336.36,188.51 L336.93,188.52 L337.50,188.53 L338.08,188.54 L338.65,188.55 L339.22,188.56 L339.80,188.57 L340.37,188.57 L340.94,188.58 L341.52,188.58 L342.09,188.59 L342.66,188.59 L343.24,188.60 L343.81,188.60 L344.38,188.60 L344.96,188.60 L345.53,188.60 L346.11,188.60 L346.68,188.60 L347.25,188.60 L347.83,188.60 L348.40,188.60 L348.97,188.60 L349.55,188.60 L350.12,188.60 L350.69,188.60 L351.27,188.60 L351.84,188.60 L352.41,188.60 L352.99,188.60 L353.56,188.60 L354.13,188.60 L354.71,188.60 L355.28,188.60 L355.85,188.60 L356.43,188.60 L357.00,188.60 L357.57,188.60 L358.15,188.60 L358.72,188.60 L359.29,188.60 L359.87,188.60 L360.44,188.60 L361.01,188.60 L361.59,188.60 L362.16,188.60 L362.73,188.60 L363.31,188.60 L363.88,188.60 L364.45,188.60 L365.03,188.60 L365.60,188.60 L366.17,188.60 L366.75,188.60 L367.32,188.60 L367.89,188.60 L368.47,188.60 L369.04,188.60 L369.61,188.60 L370.19,188.60 L370.76,188.60 L371.33,188.60 L371.91,188.60 L372.48,188.60 L373.05,188.60 L373.63,188.60 L374.20,188.60" stroke="#000000" stroke-width="1.12" stroke-dasharray="4.7 5.6"/>
<path d="M260.10,172.20 L260.67,172.21 L261.25,172.25 L261.82,172.30 L262.39,172.38 L262.97,172.47 L263.54,172.57 L264.11,172.69 L264.69,172.82 L265.26,172.97 L265.83,173.13 L266.41,173.29 L266.98,173.47 L267.55,173.65 L268.13,173.84 L268.70,174.03 L269.27,174.23 L269.85,174.43 L270.42,174.64 L270.99,174.84 L271.57,175.04 L272.14,175.24 L272.71,175.44 L273.29,175.63 L273.86,175.82 L274.43,176.00 L275.01,176.17 L275.58,176.34 L276.15,176.50 L276.73,176.65 L277.30,176.81 L277.87,176.97 L278.45,177.13 L279.02,177.28 L279.59,177.44 L280.17,177.60 L280.74,177.76 L281.31,177.92 L281.89,178.08 L282.46,178.24 L283.03,178.40 L283.61,178.56 L284.18,178.72 L284.75,178.88 L285.33,179.04 L285.90,179.20 L286.47,179.36 L287.05,179.52 L287.62,179.68 L288.19,179.84 L288.77,180.00 L289.34,180.16 L289.92,180.32 L290.49,180.48 L291.06,180.64 L291.64,180.79 L292.21,180.95 L292.78,181.11 L293.36,181.26 L293.93,181.42 L294.50,181.57 L295.08,181.73 L295.65,181.89 L296.22,182.05 L296.80,182.21 L297.37,182.37 L297.94,182.53 L298.52,182.69 L299.09,182.85 L299.66,183.02 L300.24,183.18 L300.81,183.34 L301.38,183.50 L301.96,183.66 L302.53,183.81 L303.10,183.97 L303.68,184.13 L304.25,184.28 L304.82,184.43 L305.40,184.59 L305.97,184.73 L306.54,184.88 L307.12,185.03 L307.69,185.17 L308.26,185.31 L308.84,185.45 L309.41,185.58 L309.98,185.71 L310.56,185.84 L311.13,185.96 L311.70,186.09 L312.28,186.21 L312.85,186.33 L313.42,186.45 L314.00,186.57 L314.57,186.69 L315.14,186.81 L315.72,186.92 L316.29,187.03 L316.86,187.14 L317.44,187.23 L318.01,187.33 L318.58,187.42 L319.16,187.50 L319.73,187.57 L320.30,187.63 L320.88,187.70 L321.45,187.76 L322.02,187.82 L322.60,187.88 L323.17,187.94 L323.74,188.00 L324.32,188.05 L324.89,188.10 L325.46,188.15 L326.04,188.19 L326.61,188.24 L327.18,188.27 L327.76,188.31 L328.33,188.34 L328.90,188.36 L329.48,188.39 L330.05,188.40 L330.62,188.41 L331.20,188.43 L331.77,188.44 L332.34,188.45 L332.92,188.47 L333.49,188.48 L334.06,188.49 L334.64,188.50 L335.21,188.51 L335.78,188.52 L336.36,188.53 L336.93,188.54 L337.50,188.55 L338.08,188.55 L338.65,188.56 L339.22,188.57 L339.80,188.57 L340.37,188.58 L340.94,188.58 L341.52,188.59 L342.09,188.59 L342.66,188.59 L343.24,188.60 L343.81,188.60 L344.38,188.60 L344.96,188.60 L345.53,188.60 L346.11,188.60 L346.68,188.60 L347.25,188.60 L347.83,188.60 L348.40,188.60 L348.97,188.60 L349.55,188.60 L350.12,188.60 L350.69,188.60 L351.27,188.60 L351.84,188.60 L352.41,188.60 L352.99,188.60 L353.56,188.60 L354.13,188.60 L354.71,188.60 L355.28,188.60 L355.85,188.60 L356.43,188.60 L357.00,188.60 L357.57,188.60 L358.15,188.60 L358.72,188.60 L359.29,188.60 L359.87,188.60 L360.44,188.60 L361.01,188.60 L361.59,188.60 L362.16,188.60 L362.73,188.60 L363.31,188.60 L363.88,188.60 L364.45,188.60 L365.03,188.60 L365.60,188.60 L366.17,188.60 L366.75,188.60 L367.32,188.60 L367.89,188.60 L368.47,188.60 L369.04,188.60 L369.61,188.60 L370.19,188.60 L370.76,188.60 L371.33,188.60 L371.91,188.60 L372.48,188.60 L373.05,188.60 L373.63,188.60 L374.20,188.60" stroke="#000000" stroke-width="1.12"/>
<path d="M260.10,184.60 L260.67,184.68 L261.25,184.76 L261.82,184.84 L262.39,184.91 L262.97,184.98 L263.54,185.05 L264.11,185.12 L264.69,185.19 L265.26,185.26 L265.83,185.32 L266.41,185.39 L266.98,185.45 L267.55,185.51 L268.13,185.57 L268.70,185.63 L269.27,185.68 L269.85,185.74 L270.42,185.80 L270.99,185.85 L271.57,185.91 L272.14,185.96 L272.71,186.02 L273.29,186.07 L273.86,186.12 L274.43,186.17 L275.01,186.23 L275.58,186.28 L276.15,186.33 L276.73,186.39 L277.30,186.44 L277.87,186.49 L278.45,186.54 L279.02,186.59 L279.59,186.65 L280.17,186.70 L280.74,186.75 L281.31,186.80 L281.89,186.85 L282.46,186.90 L283.03,186.95 L283.61,187.00 L284.18,187.05 L284.75,187.09 L285.33,187.14 L285.90,187.19 L286.47,187.23 L287.05,187.28 L287.62,187.32 L288.19,187.36 L288.77,187.40 L289.34,187.44 L289.92,187.48 L290.49,187.52 L291.06,187.56 L291.64,187.59 L292.21,187.63 L292.78,187.66 L293.36,187.69 L293.93,187.72 L294.50,187.75 L295.08,187.78 L295.65,187.81 L296.22,187.84 L296.80,187.87 L297.37,187.90 L297.94,187.93 L298.52,187.96 L299.09,187.99 L299.66,188.01 L300.24,188.04 L300.81,188.07 L301.38,188.09 L301.96,188.12 L302.53,188.14 L303.10,188.16 L303.68,188.19 L304.25,188.21 L304.82,188.23 L305.40,188.25 L305.97,188.27 L306.54,188.29 L307.12,188.31 L307.69,188.32 L308.26,188.34 L308.84,188.36 L309.41,188.37 L309.98,188.38 L310.56,188.39 L311.13,188.40 L311.70,188.41 L312.28,188.42 L312.85,188.43 L313.42,188.44 L314.00,188.45 L314.57,188.46 L315.14,188.47 L315.72,188.48 L316.29,188.48 L316.86,188.49 L317.44,188.50 L318.01,188.51 L318.58,188.52 L319.16,188.52 L319.73,188.53 L320.30,188.54 L320.88,188.54 L321.45,188.55 L322.02,188.56 L322.60,188.56 L323.17,188.57 L323.74,188.57 L324.32,188.58 L324.89,188.58 L325.46,188.59 L326.04,188.59 L326.61,188.59 L327.18,188.59 L327.76,188.60 L328.33,188.60 L328.90,188.60 L329.48,188.60 L330.05,188.60 L330.62,188.60 L331.20,188.60 L331.77,188.60 L332.34,188.60 L332.92,188.60 L333.49,188.60 L334.06,188.60 L334.64,188.60 L335.21,188.60 L335.78,188.60 L336.36,188.60 L336.93,188.60 L337.50,188.60 L338.08,188.60 L338.65,188.60 L339.22,188.60 L339.80,188.60 L340.37,188.60 L340.94,188.60 L341.52,188.60 L342.09,188.60 L342.66,188.60 L343.24,188.60 L343.81,188.60 L344.38,188.60 L344.96,188.60 L345.53,188.60 L346.11,188.60 L346.68,188.60 L347.25,188.60 L347.83,188.60 L348.40,188.60 L348.97,188.60 L349.55,188.60 L350.12,188.60 L350.69,188.60 L351.27,188.60 L351.84,188.60 L352.41,188.60 L352.99,188.60 L353.56,188.60 L354.13,188.60 L354.71,188.60 L355.28,188.60 L355.85,188.60 L356.43,188.60 L357.00,188.60 L357.57,188.60 L358.15,188.60 L358.72,188.60 L359.29,188.60 L359.87,188.60 L360.44,188.60 L361.01,188.60 L361.59,188.60 L362.16,188.60 L362.73,188.60 L363.31,188.60 L363.88,188.60 L364.45,188.60 L365.03,188.60 L365.60,188.60 L366.17,188.60 L366.75,188.60 L367.32,188.60 L367.89,188.60 L368.47,188.60 L369.04,188.60 L369.61,188.60 L370.19,188.60 L370.76,188.60 L371.33,188.60 L371.91,188.60 L372.48,188.60 L373.05,188.60 L373.63,188.60 L374.20,188.60" stroke="#a020f0" stroke-width="1.12"/>
</g>
<rect x="63.0" y="3.1" width="327.05" height="256.34999999999997" fill="none" stroke="#000" stroke-width="1.35"/>
<rect x="260.1" y="162.2" width="114.09999999999997" height="79.20000000000002" fill="none" stroke="#000" stroke-width="1.35"/>
<line x1="82.69" y1="259.45" x2="82.69" y2="257.25" stroke="#000" stroke-width="1.0"/>
<line x1="82.69" y1="3.10" x2="82.69" y2="5.30" stroke="#000" stroke-width="1.0"/>
<line x1="94.21" y1="259.45" x2="94.21" y2="257.25" stroke="#000" stroke-width="1.0"/>
<line x1="94.21" y1="3.10" x2="94.21" y2="5.30" stroke="#000" stroke-width="1.0"/>
<line x1="102.38" y1="259.45" x2="102.38" y2="257.25" stroke="#000" stroke-width="1.0"/>
<line x1="102.38" y1="3.10" x2="102.38" y2="5.30" stroke="#000" stroke-width="1.0"/>
<line x1="108.72" y1="259.45" x2="108.72" y2="257.25" stroke="#000" stroke-width="1.0"/>
<line x1="108.72" y1="3.10" x2="108.72" y2="5.30" stroke="#000" stroke-width="1.0"/>
<line x1="113.90" y1="259.45" x2="113.90" y2="257.25" stroke="#000" stroke-width="1.0"/>
<line x1="113.90" y1="3.10" x2="113.90" y2="5.30" stroke="#000" stroke-width="1.0"/>
<line x1="118.28" y1="259.45" x2="118.28" y2="257.25" stroke="#000" stroke-width="1.0"/>
<line x1="118.28" y1="3.10" x2="118.28" y2="5.30" stroke="#000" stroke-width="1.0"/>
<line x1="122.07" y1="259.45" x2="122.07" y2="257.25" stroke="#000" stroke-width="1.0"/>
<line x1="122.07" y1="3.10" x2="122.07" y2="5.30" stroke="#000" stroke-width="1.0"/>
<line x1="125.42" y1="259.45" x2="125.42" y2="257.25" stroke="#000" stroke-width="1.0"/>
<line x1="125.42" y1="3.10" x2="125.42" y2="5.30" stroke="#000" stroke-width="1.0"/>
<line x1="128.41" y1="259.45" x2="128.41" y2="255.05" stroke="#000" stroke-width="1.0"/>
<line x1="128.41" y1="3.10" x2="128.41" y2="7.50" stroke="#000" stroke-width="1.0"/>
<line x1="148.10" y1="259.45" x2="148.10" y2="257.25" stroke="#000" stroke-width="1.0"/>
<line x1="148.10" y1="3.10" x2="148.10" y2="5.30" stroke="#000" stroke-width="1.0"/>
<line x1="159.62" y1="259.45" x2="159.62" y2="257.25" stroke="#000" stroke-width="1.0"/>
<line x1="159.62" y1="3.10" x2="159.62" y2="5.30" stroke="#000" stroke-width="1.0"/>
<line x1="167.79" y1="259.45" x2="167.79" y2="257.25" stroke="#000" stroke-width="1.0"/>
<line x1="167.79" y1="3.10" x2="167.79" y2="5.30" stroke="#000" stroke-width="1.0"/>
<line x1="174.13" y1="259.45" x2="174.13" y2="257.25" stroke="#000" stroke-width="1.0"/>
<line x1="174.13" y1="3.10" x2="174.13" y2="5.30" stroke="#000" stroke-width="1.0"/>
<line x1="179.31" y1="259.45" x2="179.31" y2="257.25" stroke="#000" stroke-width="1.0"/>
<line x1="179.31" y1="3.10" x2="179.31" y2="5.30" stroke="#000" stroke-width="1.0"/>
<line x1="183.69" y1="259.45" x2="183.69" y2="257.25" stroke="#000" stroke-width="1.0"/>
<line x1="183.69" y1="3.10" x2="183.69" y2="5.30" stroke="#000" stroke-width="1.0"/>
<line x1="187.48" y1="259.45" x2="187.48" y2="257.25" stroke="#000" stroke-width="1.0"/>
<line x1="187.48" y1="3.10" x2="187.48" y2="5.30" stroke="#000" stroke-width="1.0"/>
<line x1="190.83" y1="259.45" x2="190.83" y2="257.25" stroke="#000" stroke-width="1.0"/>
<line x1="190.83" y1="3.10" x2="190.83" y2="5.30" stroke="#000" stroke-width="1.0"/>
<line x1="193.82" y1="259.45" x2="193.82" y2="255.05" stroke="#000" stroke-width="1.0"/>
<line x1="193.82" y1="3.10" x2="193.82" y2="7.50" stroke="#000" stroke-width="1.0"/>
<line x1="213.51" y1="259.45" x2="213.51" y2="257.25" stroke="#000" stroke-width="1.0"/>
<line x1="213.51" y1="3.10" x2="213.51" y2="5.30" stroke="#000" stroke-width="1.0"/>
<line x1="225.03" y1="259.45" x2="225.03" y2="257.25" stroke="#000" stroke-width="1.0"/>
<line x1="225.03" y1="3.10" x2="225.03" y2="5.30" stroke="#000" stroke-width="1.0"/>
<line x1="233.20" y1="259.45" x2="233.20" y2="257.25" stroke="#000" stroke-width="1.0"/>
<line x1="233.20" y1="3.10" x2="233.20" y2="5.30" stroke="#000" stroke-width="1.0"/>
<line x1="239.54" y1="259.45" x2="239.54" y2="257.25" stroke="#000" stroke-width="1.0"/>
<line x1="239.54" y1="3.10" x2="239.54" y2="5.30" stroke="#000" stroke-width="1.0"/>
<line x1="244.72" y1="259.45" x2="244.72" y2="257.25" stroke="#000" stroke-width="1.0"/>
<line x1="244.72" y1="3.10" x2="244.72" y2="5.30" stroke="#000" stroke-width="1.0"/>
<line x1="249.10" y1="259.45" x2="249.10" y2="257.25" stroke="#000" stroke-width="1.0"/>
<line x1="249.10" y1="3.10" x2="249.10" y2="5.30" stroke="#000" stroke-width="1.0"/>
<line x1="252.89" y1="259.45" x2="252.89" y2="257.25" stroke="#000" stroke-width="1.0"/>
<line x1="252.89" y1="3.10" x2="252.89" y2="5.30" stroke="#000" stroke-width="1.0"/>
<line x1="256.24" y1="259.45" x2="256.24" y2="257.25" stroke="#000" stroke-width="1.0"/>
<line x1="256.24" y1="3.10" x2="256.24" y2="5.30" stroke="#000" stroke-width="1.0"/>
<line x1="259.23" y1="259.45" x2="259.23" y2="255.05" stroke="#000" stroke-width="1.0"/>
<line x1="259.23" y1="3.10" x2="259.23" y2="7.50" stroke="#000" stroke-width="1.0"/>
<line x1="278.92" y1="259.45" x2="278.92" y2="257.25" stroke="#000" stroke-width="1.0"/>
<line x1="278.92" y1="3.10" x2="278.92" y2="5.30" stroke="#000" stroke-width="1.0"/>
<line x1="290.44" y1="259.45" x2="290.44" y2="257.25" stroke="#000" stroke-width="1.0"/>
<line x1="290.44" y1="3.10" x2="290.44" y2="5.30" stroke="#000" stroke-width="1.0"/>
<line x1="298.61" y1="259.45" x2="298.61" y2="257.25" stroke="#000" stroke-width="1.0"/>
<line x1="298.61" y1="3.10" x2="298.61" y2="5.30" stroke="#000" stroke-width="1.0"/>
<line x1="304.95" y1="259.45" x2="304.95" y2="257.25" stroke="#000" stroke-width="1.0"/>
<line x1="304.95" y1="3.10" x2="304.95" y2="5.30" stroke="#000" stroke-width="1.0"/>
<line x1="310.13" y1="259.45" x2="310.13" y2="257.25" stroke="#000" stroke-width="1.0"/>
<line x1="310.13" y1="3.10" x2="310.13" y2="5.30" stroke="#000" stroke-width="1.0"/>
<line x1="314.51" y1="259.45" x2="314.51" y2="257.25" stroke="#000" stroke-width="1.0"/>
<line x1="314.51" y1="3.10" x2="314.51" y2="5.30" stroke="#000" stroke-width="1.0"/>
<line x1="318.30" y1="259.45" x2="318.30" y2="257.25" stroke="#000" stroke-width="1.0"/>
<line x1="318.30" y1="3.10" x2="318.30" y2="5.30" stroke="#000" stroke-width="1.0"/>
<line x1="321.65" y1="259.45" x2="321.65" y2="257.25" stroke="#000" stroke-width="1.0"/>
<line x1="321.65" y1="3.10" x2="321.65" y2="5.30" stroke="#000" stroke-width="1.0"/>
<line x1="324.64" y1="259.45" x2="324.64" y2="255.05" stroke="#000" stroke-width="1.0"/>
<line x1="324.64" y1="3.10" x2="324.64" y2="7.50" stroke="#000" stroke-width="1.0"/>
<line x1="344.33" y1="259.45" x2="344.33" y2="257.25" stroke="#000" stroke-width="1.0"/>
<line x1="344.33" y1="3.10" x2="344.33" y2="5.30" stroke="#000" stroke-width="1.0"/>
<line x1="355.85" y1="259.45" x2="355.85" y2="257.25" stroke="#000" stroke-width="1.0"/>
<line x1="355.85" y1="3.10" x2="355.85" y2="5.30" stroke="#000" stroke-width="1.0"/>
<line x1="364.02" y1="259.45" x2="364.02" y2="257.25" stroke="#000" stroke-width="1.0"/>
<line x1="364.02" y1="3.10" x2="364.02" y2="5.30" stroke="#000" stroke-width="1.0"/>
<line x1="370.36" y1="259.45" x2="370.36" y2="257.25" stroke="#000" stroke-width="1.0"/>
<line x1="370.36" y1="3.10" x2="370.36" y2="5.30" stroke="#000" stroke-width="1.0"/>
<line x1="375.54" y1="259.45" x2="375.54" y2="257.25" stroke="#000" stroke-width="1.0"/>
<line x1="375.54" y1="3.10" x2="375.54" y2="5.30" stroke="#000" stroke-width="1.0"/>
<line x1="379.92" y1="259.45" x2="379.92" y2="257.25" stroke="#000" stroke-width="1.0"/>
<line x1="379.92" y1="3.10" x2="379.92" y2="5.30" stroke="#000" stroke-width="1.0"/>
<line x1="383.71" y1="259.45" x2="383.71" y2="257.25" stroke="#000" stroke-width="1.0"/>
<line x1="383.71" y1="3.10" x2="383.71" y2="5.30" stroke="#000" stroke-width="1.0"/>
<line x1="387.06" y1="259.45" x2="387.06" y2="257.25" stroke="#000" stroke-width="1.0"/>
<line x1="387.06" y1="3.10" x2="387.06" y2="5.30" stroke="#000" stroke-width="1.0"/>
<line x1="63.00" y1="243.91" x2="67.40" y2="243.91" stroke="#000" stroke-width="1.0"/>
<line x1="390.05" y1="243.91" x2="385.65" y2="243.91" stroke="#000" stroke-width="1.0"/>
<line x1="63.00" y1="212.84" x2="67.40" y2="212.84" stroke="#000" stroke-width="1.0"/>
<line x1="390.05" y1="212.84" x2="385.65" y2="212.84" stroke="#000" stroke-width="1.0"/>
<line x1="63.00" y1="181.77" x2="67.40" y2="181.77" stroke="#000" stroke-width="1.0"/>
<line x1="390.05" y1="181.77" x2="385.65" y2="181.77" stroke="#000" stroke-width="1.0"/>
<line x1="63.00" y1="150.70" x2="67.40" y2="150.70" stroke="#000" stroke-width="1.0"/>
<line x1="390.05" y1="150.70" x2="385.65" y2="150.70" stroke="#000" stroke-width="1.0"/>
<line x1="63.00" y1="119.62" x2="67.40" y2="119.62" stroke="#000" stroke-width="1.0"/>
<line x1="390.05" y1="119.62" x2="385.65" y2="119.62" stroke="#000" stroke-width="1.0"/>
<line x1="63.00" y1="88.55" x2="67.40" y2="88.55" stroke="#000" stroke-width="1.0"/>
<line x1="390.05" y1="88.55" x2="385.65" y2="88.55" stroke="#000" stroke-width="1.0"/>
<line x1="63.00" y1="57.48" x2="67.40" y2="57.48" stroke="#000" stroke-width="1.0"/>
<line x1="390.05" y1="57.48" x2="385.65" y2="57.48" stroke="#000" stroke-width="1.0"/>
<line x1="63.00" y1="26.40" x2="67.40" y2="26.40" stroke="#000" stroke-width="1.0"/>
<line x1="390.05" y1="26.40" x2="385.65" y2="26.40" stroke="#000" stroke-width="1.0"/>
<line x1="267.04" y1="241.40" x2="267.04" y2="239.70" stroke="#000" stroke-width="1.0"/>
<line x1="267.04" y1="162.20" x2="267.04" y2="163.90" stroke="#000" stroke-width="1.0"/>
<line x1="272.92" y1="241.40" x2="272.92" y2="239.70" stroke="#000" stroke-width="1.0"/>
<line x1="272.92" y1="162.20" x2="272.92" y2="163.90" stroke="#000" stroke-width="1.0"/>
<line x1="278.00" y1="241.40" x2="278.00" y2="239.70" stroke="#000" stroke-width="1.0"/>
<line x1="278.00" y1="162.20" x2="278.00" y2="163.90" stroke="#000" stroke-width="1.0"/>
<line x1="282.49" y1="241.40" x2="282.49" y2="239.70" stroke="#000" stroke-width="1.0"/>
<line x1="282.49" y1="162.20" x2="282.49" y2="163.90" stroke="#000" stroke-width="1.0"/>
<line x1="286.50" y1="241.40" x2="286.50" y2="238.00" stroke="#000" stroke-width="1.0"/>
<line x1="286.50" y1="162.20" x2="286.50" y2="165.60" stroke="#000" stroke-width="1.0"/>
<line x1="312.90" y1="241.40" x2="312.90" y2="239.70" stroke="#000" stroke-width="1.0"/>
<line x1="312.90" y1="162.20" x2="312.90" y2="163.90" stroke="#000" stroke-width="1.0"/>
<line x1="328.34" y1="241.40" x2="328.34" y2="239.70" stroke="#000" stroke-width="1.0"/>
<line x1="328.34" y1="162.20" x2="328.34" y2="163.90" stroke="#000" stroke-width="1.0"/>
<line x1="339.30" y1="241.40" x2="339.30" y2="239.70" stroke="#000" stroke-width="1.0"/>
<line x1="339.30" y1="162.20" x2="339.30" y2="163.90" stroke="#000" stroke-width="1.0"/>
<line x1="347.80" y1="241.40" x2="347.80" y2="239.70" stroke="#000" stroke-width="1.0"/>
<line x1="347.80" y1="162.20" x2="347.80" y2="163.90" stroke="#000" stroke-width="1.0"/>
<line x1="354.74" y1="241.40" x2="354.74" y2="239.70" stroke="#000" stroke-width="1.0"/>
<line x1="354.74" y1="162.20" x2="354.74" y2="163.90" stroke="#000" stroke-width="1.0"/>
<line x1="360.62" y1="241.40" x2="360.62" y2="239.70" stroke="#000" stroke-width="1.0"/>
<line x1="360.62" y1="162.20" x2="360.62" y2="163.90" stroke="#000" stroke-width="1.0"/>
<line x1="365.70" y1="241.40" x2="365.70" y2="239.70" stroke="#000" stroke-width="1.0"/>
<line x1="365.70" y1="162.20" x2="365.70" y2="163.90" stroke="#000" stroke-width="1.0"/>
<line x1="370.19" y1="241.40" x2="370.19" y2="239.70" stroke="#000" stroke-width="1.0"/>
<line x1="370.19" y1="162.20" x2="370.19" y2="163.90" stroke="#000" stroke-width="1.0"/>
<line x1="260.10" y1="215.00" x2="263.50" y2="215.00" stroke="#000" stroke-width="1.0"/>
<line x1="374.20" y1="215.00" x2="370.80" y2="215.00" stroke="#000" stroke-width="1.0"/>
<line x1="260.10" y1="188.60" x2="263.50" y2="188.60" stroke="#000" stroke-width="1.0"/>
<line x1="374.20" y1="188.60" x2="370.80" y2="188.60" stroke="#000" stroke-width="1.0"/>
<g id="txt" text-rendering="geometricPrecision">
<text x="54.30" y="247.11" font-size="13.84" text-anchor="end" fill="#262626">0.08</text>
<text transform="translate(19.56,248.21) scale(1.33,1.0)" font-size="13.84" fill="#262626">−</text>
<text x="54.30" y="216.04" font-size="13.84" text-anchor="end" fill="#262626">0.06</text>
<text transform="translate(19.56,217.14) scale(1.33,1.0)" font-size="13.84" fill="#262626">−</text>
<text x="54.30" y="184.97" font-size="13.84" text-anchor="end" fill="#262626">0.04</text>
<text transform="translate(19.56,186.07) scale(1.33,1.0)" font-size="13.84" fill="#262626">−</text>
<text x="54.30" y="153.90" font-size="13.84" text-anchor="end" fill="#262626">0.02</text>
<text transform="translate(19.56,155.00) scale(1.33,1.0)" font-size="13.84" fill="#262626">−</text>
<text x="54.30" y="122.82" font-size="13.84" text-anchor="end" fill="#262626">0</text>
<text x="54.30" y="91.75" font-size="13.84" text-anchor="end" fill="#262626">0.02</text>
<text x="54.30" y="60.68" font-size="13.84" text-anchor="end" fill="#262626">0.04</text>
<text x="54.30" y="29.60" font-size="13.84" text-anchor="end" fill="#262626">0.06</text>
<text x="48.30" y="277.40" font-size="13.84" text-anchor="start" textLength="14.0" lengthAdjust="spacingAndGlyphs" fill="#262626">10</text>
<text transform="translate(62.99,273.20) scale(1.45,1.0)" font-size="9.8" fill="#262626">−</text>
<text transform="translate(71.17,272.30) scale(1.1,1.0)" font-size="9.8" fill="#262626">5</text>
<text x="113.71" y="277.40" font-size="13.84" text-anchor="start" textLength="14.0" lengthAdjust="spacingAndGlyphs" fill="#262626">10</text>
<text transform="translate(128.40,273.20) scale(1.45,1.0)" font-size="9.8" fill="#262626">−</text>
<text transform="translate(137.00,272.30) scale(1.1,1.0)" font-size="9.8" fill="#262626">4</text>
<text x="179.12" y="277.40" font-size="13.84" text-anchor="start" textLength="14.0" lengthAdjust="spacingAndGlyphs" fill="#262626">10</text>
<text transform="translate(193.81,273.20) scale(1.45,1.0)" font-size="9.8" fill="#262626">−</text>
<text transform="translate(202.10,272.30) scale(1.1,1.0)" font-size="9.8" fill="#262626">3</text>
<text x="244.53" y="277.40" font-size="13.84" text-anchor="start" textLength="14.0" lengthAdjust="spacingAndGlyphs" fill="#262626">10</text>
<text transform="translate(259.22,273.20) scale(1.45,1.0)" font-size="9.8" fill="#262626">−</text>
<text transform="translate(267.56,272.30) scale(1.1,1.0)" font-size="9.8" fill="#262626">2</text>
<text x="309.94" y="277.40" font-size="13.84" text-anchor="start" textLength="14.0" lengthAdjust="spacingAndGlyphs" fill="#262626">10</text>
<text transform="translate(324.63,273.20) scale(1.45,1.0)" font-size="9.8" fill="#262626">−</text>
<text transform="translate(332.49,272.30) scale(1.1,1.0)" font-size="9.8" fill="#262626">1</text>
<text x="389.35" y="277.40" font-size="13.84" text-anchor="middle" fill="#262626">1</text>
<text x="271.60" y="259.00" font-size="13.84" text-anchor="start" textLength="14.0" lengthAdjust="spacingAndGlyphs" fill="#262626">10</text>
<text transform="translate(286.29,254.80) scale(1.45,1.0)" font-size="9.8" fill="#262626">−</text>
<text transform="translate(294.15,253.90) scale(1.1,1.0)" font-size="9.8" fill="#262626">1</text>
<text x="374.20" y="259.00" font-size="13.84" text-anchor="middle" fill="#262626">1</text>
<text x="251.30" y="245.10" font-size="13.84" text-anchor="end" fill="#262626">0.002</text>
<text transform="translate(209.64,246.20) scale(1.33,1.0)" font-size="13.84" fill="#262626">−</text>
<text x="251.30" y="218.70" font-size="13.84" text-anchor="end" fill="#262626">0.001</text>
<text transform="translate(209.64,219.80) scale(1.33,1.0)" font-size="13.84" fill="#262626">−</text>
<text x="251.30" y="192.30" font-size="13.84" text-anchor="end" fill="#262626">0</text>
<text x="251.30" y="165.90" font-size="13.84" text-anchor="end" fill="#262626">0.001</text>
<text transform="translate(223.58,289.80) scale(1.06,1.0)" font-size="14.2" font-style="italic" fill="#262626">x</text>
<g transform="translate(14.5,149.4) rotate(-90)">
<text transform="translate(0.08,0.00) scale(0.97,1.0)" font-size="14.4" font-style="italic" fill="#262626">F</text>
<text x="6.67" y="4.60" font-size="9.8" fill="#262626">2</text>
<text x="9.60" y="-4.60" font-size="9.8" text-anchor="start" textLength="27.0" lengthAdjust="spacingAndGlyphs" fill="#262626">heavy</text>
</g>
<text transform="translate(295.79,18.10) scale(0.97,1.0)" font-size="14.2" font-style="italic" fill="#262626">α</text>
<text transform="translate(305.07,22.10) scale(1.12,1.0)" font-size="9.4" font-style="italic" fill="#262626">s</text>
<text transform="translate(327.49,18.10) scale(0.97,1.0)" font-size="14.2" font-style="italic" fill="#262626">α</text>
<text transform="translate(336.77,22.10) scale(1.12,1.0)" font-size="9.4" font-style="italic" fill="#262626">s</text>
<text transform="translate(336.09,13.20) scale(1.05,1.0)" font-size="11.0" fill="#262626">2</text>
<text transform="translate(354.99,18.10) scale(0.97,1.0)" font-size="14.2" font-style="italic" fill="#262626">α</text>
<text transform="translate(364.27,22.10) scale(1.12,1.0)" font-size="9.4" font-style="italic" fill="#262626">s</text>
<text transform="translate(363.55,13.20) scale(1.05,1.0)" font-size="11.0" fill="#262626">3</text>
<line x1="295.3" y1="29.25" x2="312.2" y2="29.25" stroke="#ff0000" stroke-width="1.12" stroke-dasharray="2.3 2.85"/>
<line x1="327.2" y1="29.25" x2="342.4" y2="29.25" stroke="#ff0000" stroke-width="1.12" stroke-dasharray="4.7 5.6"/>
<line x1="327.2" y1="46.9" x2="342.4" y2="46.9" stroke="#0000ff" stroke-width="1.12" stroke-dasharray="4.7 5.6"/>
<line x1="354.6" y1="46.9" x2="370.6" y2="46.9" stroke="#0000ff" stroke-width="1.12"/>
<line x1="327.2" y1="64.8" x2="342.4" y2="64.8" stroke="#1c861c" stroke-width="1.12" stroke-dasharray="4.7 5.6"/>
<line x1="354.6" y1="64.8" x2="370.6" y2="64.8" stroke="#1c861c" stroke-width="1.12"/>
<line x1="327.2" y1="82.4" x2="342.4" y2="82.4" stroke="#000000" stroke-width="1.12" stroke-dasharray="4.7 5.6"/>
<line x1="354.6" y1="82.4" x2="370.6" y2="82.4" stroke="#000000" stroke-width="1.12"/>
<line x1="354.6" y1="100.2" x2="370.6" y2="100.2" stroke="#a020f0" stroke-width="1.12"/>
<text transform="translate(241.06,32.50) scale(1.04,1.0)" font-size="14.4" font-style="italic" fill="#262626">H</text>
<text transform="translate(252.88,27.50) scale(1.06,1.0)" font-size="10.2" fill="#262626">S</text>
<text transform="translate(252.69,36.70) scale(1.05,1.0)" font-size="9.8" font-style="italic" fill="#262626">g</text>
<text x="258.43" y="36.70" font-size="9.8" fill="#262626">,</text>
<text transform="translate(261.13,36.70) scale(1.08,1.0)" font-size="9.8" fill="#262626">2</text>
<text transform="translate(267.30,36.10) scale(0.95,1.0)" font-size="21.5" fill="#262626">/</text>
<text x="287.80" y="32.50" font-size="13.84" text-anchor="end" fill="#262626">20</text>
<text transform="translate(261.76,50.50) scale(1.04,1.0)" font-size="14.4" font-style="italic" fill="#262626">H</text>
<text transform="translate(273.06,45.15) scale(1.12,1.0)" font-size="10.5" fill="#262626">P</text>
<text transform="translate(279.91,45.15) scale(1.12,1.0)" font-size="10.5" fill="#262626">S</text>
<text transform="translate(272.86,54.50) scale(1.05,1.0)" font-size="9.8" font-style="italic" fill="#262626">q</text>
<text x="278.93" y="54.50" font-size="9.8" fill="#262626">,</text>
<text transform="translate(281.63,54.50) scale(1.08,1.0)" font-size="9.8" fill="#262626">2</text>
<text transform="translate(263.49,68.40) scale(1.12,1.0)" font-size="14.4" font-style="italic" fill="#262626">L</text>
<text transform="translate(273.06,63.05) scale(1.12,1.0)" font-size="10.5" fill="#262626">N</text>
<text transform="translate(281.40,63.05) scale(1.12,1.0)" font-size="10.5" fill="#262626">S</text>
<text transform="translate(272.86,72.40) scale(1.05,1.0)" font-size="9.8" font-style="italic" fill="#262626">q</text>
<text x="278.93" y="72.40" font-size="9.8" fill="#262626">,</text>
<text transform="translate(281.63,72.40) scale(1.08,1.0)" font-size="9.8" fill="#262626">2</text>
<text transform="translate(263.49,85.90) scale(1.12,1.0)" font-size="14.4" font-style="italic" fill="#262626">L</text>
<text transform="translate(272.61,80.55) scale(1.12,1.0)" font-size="10.5" fill="#262626">S</text>
<text transform="translate(272.89,89.90) scale(1.05,1.0)" font-size="9.8" font-style="italic" fill="#262626">g</text>
<text x="278.63" y="89.90" font-size="9.8" fill="#262626">,</text>
<text transform="translate(281.33,89.90) scale(1.08,1.0)" font-size="9.8" fill="#262626">2</text>
<text transform="translate(263.49,103.40) scale(1.12,1.0)" font-size="14.4" font-style="italic" fill="#262626">L</text>
<text transform="translate(273.06,98.05) scale(1.12,1.0)" font-size="10.5" fill="#262626">P</text>
<text transform="translate(279.91,98.05) scale(1.12,1.0)" font-size="10.5" fill="#262626">S</text>
<text transform="translate(272.86,107.40) scale(1.05,1.0)" font-size="9.8" font-style="italic" fill="#262626">q</text>
<text x="278.93" y="107.40" font-size="9.8" fill="#262626">,</text>
<text transform="translate(281.63,107.40) scale(1.08,1.0)" font-size="9.8" fill="#262626">2</text>
</g>
</svg></div></body></html>
